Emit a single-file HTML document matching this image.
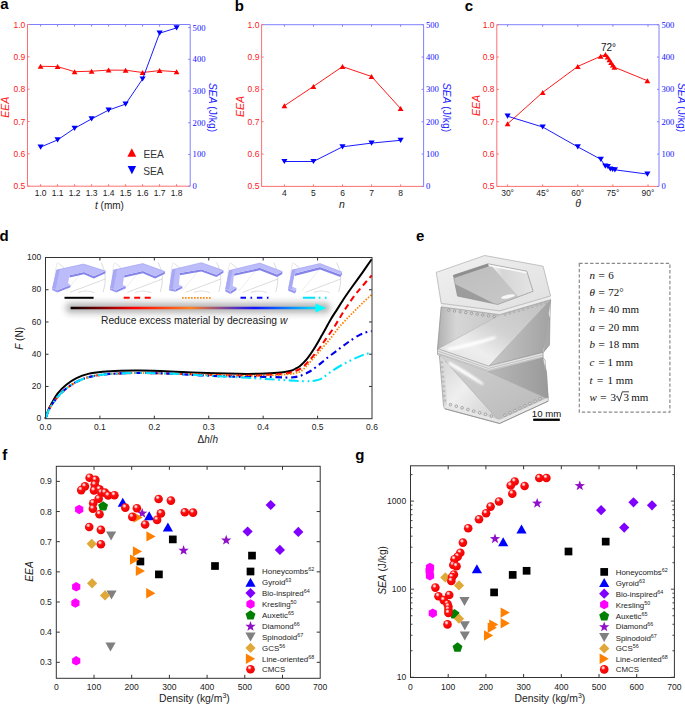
<!DOCTYPE html>
<html><head><meta charset="utf-8"><style>
html,body{margin:0;padding:0;background:#fff;}
svg{display:block;}
text{font-family:"Liberation Sans",sans-serif;}
</style></head><body>
<svg width="685" height="704" viewBox="0 0 685 704">
<text x="0.30" y="8.80" fill="#000" text-anchor="start" style='font-size:15px;font-family:"Liberation Sans", sans-serif;font-weight:bold;' >a</text>
<text x="234.70" y="10.70" fill="#000" text-anchor="start" style='font-size:15px;font-family:"Liberation Sans", sans-serif;font-weight:bold;' >b</text>
<text x="464.70" y="10.70" fill="#000" text-anchor="start" style='font-size:15px;font-family:"Liberation Sans", sans-serif;font-weight:bold;' >c</text>
<text x="-0.40" y="240.70" fill="#000" text-anchor="start" style='font-size:15px;font-family:"Liberation Sans", sans-serif;font-weight:bold;' >d</text>
<text x="416.00" y="240.80" fill="#000" text-anchor="start" style='font-size:15px;font-family:"Liberation Sans", sans-serif;font-weight:bold;' >e</text>
<text x="2.30" y="459.60" fill="#000" text-anchor="start" style='font-size:15px;font-family:"Liberation Sans", sans-serif;font-weight:bold;' >f</text>
<text x="355.30" y="459.90" fill="#000" text-anchor="start" style='font-size:15px;font-family:"Liberation Sans", sans-serif;font-weight:bold;' >g</text>
<line x1="27.50" y1="24.50" x2="190.20" y2="24.50" stroke="#8080ff" stroke-width="1" />
<line x1="190.20" y1="24.50" x2="190.20" y2="186.20" stroke="#8080ff" stroke-width="1" />
<line x1="27.50" y1="24.50" x2="27.50" y2="186.20" stroke="#ff7070" stroke-width="1" />
<line x1="27.50" y1="186.20" x2="190.20" y2="186.20" stroke="#ff7070" stroke-width="1" />
<line x1="40.60" y1="24.50" x2="40.60" y2="26.50" stroke="#8080ff" stroke-width="1" />
<line x1="40.60" y1="186.20" x2="40.60" y2="184.20" stroke="#ff7070" stroke-width="1" />
<line x1="57.60" y1="24.50" x2="57.60" y2="26.50" stroke="#8080ff" stroke-width="1" />
<line x1="57.60" y1="186.20" x2="57.60" y2="184.20" stroke="#ff7070" stroke-width="1" />
<line x1="74.60" y1="24.50" x2="74.60" y2="26.50" stroke="#8080ff" stroke-width="1" />
<line x1="74.60" y1="186.20" x2="74.60" y2="184.20" stroke="#ff7070" stroke-width="1" />
<line x1="91.60" y1="24.50" x2="91.60" y2="26.50" stroke="#8080ff" stroke-width="1" />
<line x1="91.60" y1="186.20" x2="91.60" y2="184.20" stroke="#ff7070" stroke-width="1" />
<line x1="108.60" y1="24.50" x2="108.60" y2="26.50" stroke="#8080ff" stroke-width="1" />
<line x1="108.60" y1="186.20" x2="108.60" y2="184.20" stroke="#ff7070" stroke-width="1" />
<line x1="125.60" y1="24.50" x2="125.60" y2="26.50" stroke="#8080ff" stroke-width="1" />
<line x1="125.60" y1="186.20" x2="125.60" y2="184.20" stroke="#ff7070" stroke-width="1" />
<line x1="142.60" y1="24.50" x2="142.60" y2="26.50" stroke="#8080ff" stroke-width="1" />
<line x1="142.60" y1="186.20" x2="142.60" y2="184.20" stroke="#ff7070" stroke-width="1" />
<line x1="159.60" y1="24.50" x2="159.60" y2="26.50" stroke="#8080ff" stroke-width="1" />
<line x1="159.60" y1="186.20" x2="159.60" y2="184.20" stroke="#ff7070" stroke-width="1" />
<line x1="176.60" y1="24.50" x2="176.60" y2="26.50" stroke="#8080ff" stroke-width="1" />
<line x1="176.60" y1="186.20" x2="176.60" y2="184.20" stroke="#ff7070" stroke-width="1" />
<line x1="27.50" y1="186.20" x2="29.50" y2="186.20" stroke="#ff7070" stroke-width="1" />
<text x="25.30" y="189.20" fill="#ff2020" text-anchor="end" style='font-size:8.5px;font-family:"Liberation Sans", sans-serif;' >0.5</text>
<line x1="190.20" y1="186.20" x2="188.20" y2="186.20" stroke="#8080ff" stroke-width="1" />
<text x="192.60" y="189.20" fill="#1010ff" text-anchor="start" style='font-size:8.6px;font-family:"Liberation Serif", serif;' >0</text>
<line x1="27.50" y1="153.86" x2="29.50" y2="153.86" stroke="#ff7070" stroke-width="1" />
<text x="25.30" y="156.86" fill="#ff2020" text-anchor="end" style='font-size:8.5px;font-family:"Liberation Sans", sans-serif;' >0.6</text>
<line x1="190.20" y1="154.48" x2="188.20" y2="154.48" stroke="#8080ff" stroke-width="1" />
<text x="192.60" y="157.48" fill="#1010ff" text-anchor="start" style='font-size:8.6px;font-family:"Liberation Serif", serif;' >100</text>
<line x1="27.50" y1="121.52" x2="29.50" y2="121.52" stroke="#ff7070" stroke-width="1" />
<text x="25.30" y="124.52" fill="#ff2020" text-anchor="end" style='font-size:8.5px;font-family:"Liberation Sans", sans-serif;' >0.7</text>
<line x1="190.20" y1="122.76" x2="188.20" y2="122.76" stroke="#8080ff" stroke-width="1" />
<text x="192.60" y="125.76" fill="#1010ff" text-anchor="start" style='font-size:8.6px;font-family:"Liberation Serif", serif;' >200</text>
<line x1="27.50" y1="89.18" x2="29.50" y2="89.18" stroke="#ff7070" stroke-width="1" />
<text x="25.30" y="92.18" fill="#ff2020" text-anchor="end" style='font-size:8.5px;font-family:"Liberation Sans", sans-serif;' >0.8</text>
<line x1="190.20" y1="91.04" x2="188.20" y2="91.04" stroke="#8080ff" stroke-width="1" />
<text x="192.60" y="94.04" fill="#1010ff" text-anchor="start" style='font-size:8.6px;font-family:"Liberation Serif", serif;' >300</text>
<line x1="27.50" y1="56.84" x2="29.50" y2="56.84" stroke="#ff7070" stroke-width="1" />
<text x="25.30" y="59.84" fill="#ff2020" text-anchor="end" style='font-size:8.5px;font-family:"Liberation Sans", sans-serif;' >0.9</text>
<line x1="190.20" y1="59.32" x2="188.20" y2="59.32" stroke="#8080ff" stroke-width="1" />
<text x="192.60" y="62.32" fill="#1010ff" text-anchor="start" style='font-size:8.6px;font-family:"Liberation Serif", serif;' >400</text>
<line x1="27.50" y1="24.50" x2="29.50" y2="24.50" stroke="#ff7070" stroke-width="1" />
<text x="25.30" y="27.50" fill="#ff2020" text-anchor="end" style='font-size:8.5px;font-family:"Liberation Sans", sans-serif;' >1.0</text>
<line x1="190.20" y1="27.60" x2="188.20" y2="27.60" stroke="#8080ff" stroke-width="1" />
<text x="192.60" y="30.60" fill="#1010ff" text-anchor="start" style='font-size:8.6px;font-family:"Liberation Serif", serif;' >500</text>
<text x="40.60" y="195.80" fill="#1a1a1a" text-anchor="middle" style='font-size:8.5px;font-family:"Liberation Sans", sans-serif;' >1.0</text>
<text x="57.60" y="195.80" fill="#1a1a1a" text-anchor="middle" style='font-size:8.5px;font-family:"Liberation Sans", sans-serif;' >1.1</text>
<text x="74.60" y="195.80" fill="#1a1a1a" text-anchor="middle" style='font-size:8.5px;font-family:"Liberation Sans", sans-serif;' >1.2</text>
<text x="91.60" y="195.80" fill="#1a1a1a" text-anchor="middle" style='font-size:8.5px;font-family:"Liberation Sans", sans-serif;' >1.3</text>
<text x="108.60" y="195.80" fill="#1a1a1a" text-anchor="middle" style='font-size:8.5px;font-family:"Liberation Sans", sans-serif;' >1.4</text>
<text x="125.60" y="195.80" fill="#1a1a1a" text-anchor="middle" style='font-size:8.5px;font-family:"Liberation Sans", sans-serif;' >1.5</text>
<text x="142.60" y="195.80" fill="#1a1a1a" text-anchor="middle" style='font-size:8.5px;font-family:"Liberation Sans", sans-serif;' >1.6</text>
<text x="159.60" y="195.80" fill="#1a1a1a" text-anchor="middle" style='font-size:8.5px;font-family:"Liberation Sans", sans-serif;' >1.7</text>
<text x="176.60" y="195.80" fill="#1a1a1a" text-anchor="middle" style='font-size:8.5px;font-family:"Liberation Sans", sans-serif;' >1.8</text>
<polyline points="40.60,66.30 57.60,66.60 74.60,71.70 91.60,71.20 108.60,70.10 125.60,70.20 142.60,72.50 159.60,70.60 176.60,71.70" fill="none" stroke="#ff0000" stroke-width="0.9" stroke-linejoin="round" />
<polygon points="37.70,68.80 43.50,68.80 40.60,63.80" fill="#ff0000" />
<polygon points="54.70,69.10 60.50,69.10 57.60,64.10" fill="#ff0000" />
<polygon points="71.70,74.20 77.50,74.20 74.60,69.20" fill="#ff0000" />
<polygon points="88.70,73.70 94.50,73.70 91.60,68.70" fill="#ff0000" />
<polygon points="105.70,72.60 111.50,72.60 108.60,67.60" fill="#ff0000" />
<polygon points="122.70,72.70 128.50,72.70 125.60,67.70" fill="#ff0000" />
<polygon points="139.70,75.00 145.50,75.00 142.60,70.00" fill="#ff0000" />
<polygon points="156.70,73.10 162.50,73.10 159.60,68.10" fill="#ff0000" />
<polygon points="173.70,74.20 179.50,74.20 176.60,69.20" fill="#ff0000" />
<polyline points="40.60,147.10 57.60,139.90 74.60,128.30 91.60,118.90 108.60,110.10 125.60,104.10 142.60,79.00 159.60,33.20 176.60,27.90" fill="none" stroke="#0000ff" stroke-width="0.9" stroke-linejoin="round" />
<polygon points="37.50,144.50 43.70,144.50 40.60,149.70" fill="#0000ff" />
<polygon points="54.50,137.30 60.70,137.30 57.60,142.50" fill="#0000ff" />
<polygon points="71.50,125.70 77.70,125.70 74.60,130.90" fill="#0000ff" />
<polygon points="88.50,116.30 94.70,116.30 91.60,121.50" fill="#0000ff" />
<polygon points="105.50,107.50 111.70,107.50 108.60,112.70" fill="#0000ff" />
<polygon points="122.50,101.50 128.70,101.50 125.60,106.70" fill="#0000ff" />
<polygon points="139.50,76.40 145.70,76.40 142.60,81.60" fill="#0000ff" />
<polygon points="156.50,30.60 162.70,30.60 159.60,35.80" fill="#0000ff" />
<polygon points="173.50,25.30 179.70,25.30 176.60,30.50" fill="#0000ff" />
<polygon points="127.40,156.75 136.20,156.75 131.80,148.25" fill="#ff0000" />
<text x="143.40" y="157.70" fill="#333" text-anchor="start" style='font-size:10.2px;font-family:"Liberation Sans", sans-serif;' >EEA</text>
<polygon points="127.70,166.00 136.10,166.00 131.90,174.20" fill="#0000ff" />
<text x="143.20" y="174.60" fill="#333" text-anchor="start" style='font-size:10.2px;font-family:"Liberation Sans", sans-serif;' >SEA</text>
<text x="0" y="0" transform="translate(9.2,107.2) rotate(-90)" text-anchor="middle" fill="#ff2020" style='font-size:10.5px;font-family:"Liberation Sans",sans-serif;font-style:italic'>EEA</text>
<text x="0" y="0" transform="translate(209.4,107.5) rotate(90)" text-anchor="middle" fill="#1a1aff" style='font-size:10.3px;font-family:"Liberation Sans",sans-serif'><tspan style="font-style:italic">SEA</tspan> (J/kg)</text>
<text x="109.5" y="208.6" text-anchor="middle" fill="#222" style='font-size:10px;font-family:"Liberation Sans",sans-serif'><tspan style="font-style:italic">t</tspan> (mm)</text>
<line x1="261.60" y1="24.70" x2="423.60" y2="24.70" stroke="#8080ff" stroke-width="1" />
<line x1="423.60" y1="24.70" x2="423.60" y2="186.40" stroke="#8080ff" stroke-width="1" />
<line x1="261.60" y1="24.70" x2="261.60" y2="186.40" stroke="#ff7070" stroke-width="1" />
<line x1="261.60" y1="186.40" x2="423.60" y2="186.40" stroke="#ff7070" stroke-width="1" />
<line x1="284.40" y1="24.70" x2="284.40" y2="26.70" stroke="#8080ff" stroke-width="1" />
<line x1="284.40" y1="186.40" x2="284.40" y2="184.40" stroke="#ff7070" stroke-width="1" />
<line x1="313.45" y1="24.70" x2="313.45" y2="26.70" stroke="#8080ff" stroke-width="1" />
<line x1="313.45" y1="186.40" x2="313.45" y2="184.40" stroke="#ff7070" stroke-width="1" />
<line x1="342.50" y1="24.70" x2="342.50" y2="26.70" stroke="#8080ff" stroke-width="1" />
<line x1="342.50" y1="186.40" x2="342.50" y2="184.40" stroke="#ff7070" stroke-width="1" />
<line x1="371.55" y1="24.70" x2="371.55" y2="26.70" stroke="#8080ff" stroke-width="1" />
<line x1="371.55" y1="186.40" x2="371.55" y2="184.40" stroke="#ff7070" stroke-width="1" />
<line x1="400.60" y1="24.70" x2="400.60" y2="26.70" stroke="#8080ff" stroke-width="1" />
<line x1="400.60" y1="186.40" x2="400.60" y2="184.40" stroke="#ff7070" stroke-width="1" />
<line x1="261.60" y1="186.40" x2="263.60" y2="186.40" stroke="#ff7070" stroke-width="1" />
<text x="259.40" y="189.40" fill="#ff2020" text-anchor="end" style='font-size:8.5px;font-family:"Liberation Sans", sans-serif;' >0.5</text>
<line x1="423.60" y1="186.40" x2="421.60" y2="186.40" stroke="#8080ff" stroke-width="1" />
<text x="426.00" y="189.40" fill="#1010ff" text-anchor="start" style='font-size:8.6px;font-family:"Liberation Serif", serif;' >0</text>
<line x1="261.60" y1="154.06" x2="263.60" y2="154.06" stroke="#ff7070" stroke-width="1" />
<text x="259.40" y="157.06" fill="#ff2020" text-anchor="end" style='font-size:8.5px;font-family:"Liberation Sans", sans-serif;' >0.6</text>
<line x1="423.60" y1="154.06" x2="421.60" y2="154.06" stroke="#8080ff" stroke-width="1" />
<text x="426.00" y="157.06" fill="#1010ff" text-anchor="start" style='font-size:8.6px;font-family:"Liberation Serif", serif;' >100</text>
<line x1="261.60" y1="121.72" x2="263.60" y2="121.72" stroke="#ff7070" stroke-width="1" />
<text x="259.40" y="124.72" fill="#ff2020" text-anchor="end" style='font-size:8.5px;font-family:"Liberation Sans", sans-serif;' >0.7</text>
<line x1="423.60" y1="121.72" x2="421.60" y2="121.72" stroke="#8080ff" stroke-width="1" />
<text x="426.00" y="124.72" fill="#1010ff" text-anchor="start" style='font-size:8.6px;font-family:"Liberation Serif", serif;' >200</text>
<line x1="261.60" y1="89.38" x2="263.60" y2="89.38" stroke="#ff7070" stroke-width="1" />
<text x="259.40" y="92.38" fill="#ff2020" text-anchor="end" style='font-size:8.5px;font-family:"Liberation Sans", sans-serif;' >0.8</text>
<line x1="423.60" y1="89.38" x2="421.60" y2="89.38" stroke="#8080ff" stroke-width="1" />
<text x="426.00" y="92.38" fill="#1010ff" text-anchor="start" style='font-size:8.6px;font-family:"Liberation Serif", serif;' >300</text>
<line x1="261.60" y1="57.04" x2="263.60" y2="57.04" stroke="#ff7070" stroke-width="1" />
<text x="259.40" y="60.04" fill="#ff2020" text-anchor="end" style='font-size:8.5px;font-family:"Liberation Sans", sans-serif;' >0.9</text>
<line x1="423.60" y1="57.04" x2="421.60" y2="57.04" stroke="#8080ff" stroke-width="1" />
<text x="426.00" y="60.04" fill="#1010ff" text-anchor="start" style='font-size:8.6px;font-family:"Liberation Serif", serif;' >400</text>
<line x1="261.60" y1="24.70" x2="263.60" y2="24.70" stroke="#ff7070" stroke-width="1" />
<text x="259.40" y="27.70" fill="#ff2020" text-anchor="end" style='font-size:8.5px;font-family:"Liberation Sans", sans-serif;' >1.0</text>
<line x1="423.60" y1="24.70" x2="421.60" y2="24.70" stroke="#8080ff" stroke-width="1" />
<text x="426.00" y="27.70" fill="#1010ff" text-anchor="start" style='font-size:8.6px;font-family:"Liberation Serif", serif;' >500</text>
<text x="284.40" y="195.80" fill="#1a1a1a" text-anchor="middle" style='font-size:8.5px;font-family:"Liberation Sans", sans-serif;' >4</text>
<text x="313.45" y="195.80" fill="#1a1a1a" text-anchor="middle" style='font-size:8.5px;font-family:"Liberation Sans", sans-serif;' >5</text>
<text x="342.50" y="195.80" fill="#1a1a1a" text-anchor="middle" style='font-size:8.5px;font-family:"Liberation Sans", sans-serif;' >6</text>
<text x="371.55" y="195.80" fill="#1a1a1a" text-anchor="middle" style='font-size:8.5px;font-family:"Liberation Sans", sans-serif;' >7</text>
<text x="400.60" y="195.80" fill="#1a1a1a" text-anchor="middle" style='font-size:8.5px;font-family:"Liberation Sans", sans-serif;' >8</text>
<polyline points="284.40,105.80 313.45,86.40 342.50,66.60 371.55,76.50 400.60,108.60" fill="none" stroke="#ff0000" stroke-width="0.9" stroke-linejoin="round" />
<polygon points="281.50,108.30 287.30,108.30 284.40,103.30" fill="#ff0000" />
<polygon points="310.55,88.90 316.35,88.90 313.45,83.90" fill="#ff0000" />
<polygon points="339.60,69.10 345.40,69.10 342.50,64.10" fill="#ff0000" />
<polygon points="368.65,79.00 374.45,79.00 371.55,74.00" fill="#ff0000" />
<polygon points="397.70,111.10 403.50,111.10 400.60,106.10" fill="#ff0000" />
<polyline points="284.40,161.50 313.45,161.50 342.50,146.80 371.55,143.10 400.60,140.30" fill="none" stroke="#0000ff" stroke-width="0.9" stroke-linejoin="round" />
<polygon points="281.30,158.90 287.50,158.90 284.40,164.10" fill="#0000ff" />
<polygon points="310.35,158.90 316.55,158.90 313.45,164.10" fill="#0000ff" />
<polygon points="339.40,144.20 345.60,144.20 342.50,149.40" fill="#0000ff" />
<polygon points="368.45,140.50 374.65,140.50 371.55,145.70" fill="#0000ff" />
<polygon points="397.50,137.70 403.70,137.70 400.60,142.90" fill="#0000ff" />
<text x="0" y="0" transform="translate(244.0,106.6) rotate(-90)" text-anchor="middle" fill="#ff2020" style='font-size:10.5px;font-family:"Liberation Sans",sans-serif;font-style:italic'>EEA</text>
<text x="0" y="0" transform="translate(442.8,107.5) rotate(90)" text-anchor="middle" fill="#1a1aff" style='font-size:10.3px;font-family:"Liberation Sans",sans-serif'><tspan style="font-style:italic">SEA</tspan> (J/kg)</text>
<text x="342" y="207.6" text-anchor="middle" fill="#222" style='font-size:10.5px;font-family:"Liberation Sans",sans-serif;font-style:italic'>n</text>
<line x1="496.80" y1="24.70" x2="659.00" y2="24.70" stroke="#8080ff" stroke-width="1" />
<line x1="659.00" y1="24.70" x2="659.00" y2="186.40" stroke="#8080ff" stroke-width="1" />
<line x1="496.80" y1="24.70" x2="496.80" y2="186.40" stroke="#ff7070" stroke-width="1" />
<line x1="496.80" y1="186.40" x2="659.00" y2="186.40" stroke="#ff7070" stroke-width="1" />
<line x1="507.60" y1="24.70" x2="507.60" y2="26.70" stroke="#8080ff" stroke-width="1" />
<line x1="507.60" y1="186.40" x2="507.60" y2="184.40" stroke="#ff7070" stroke-width="1" />
<line x1="542.70" y1="24.70" x2="542.70" y2="26.70" stroke="#8080ff" stroke-width="1" />
<line x1="542.70" y1="186.40" x2="542.70" y2="184.40" stroke="#ff7070" stroke-width="1" />
<line x1="577.80" y1="24.70" x2="577.80" y2="26.70" stroke="#8080ff" stroke-width="1" />
<line x1="577.80" y1="186.40" x2="577.80" y2="184.40" stroke="#ff7070" stroke-width="1" />
<line x1="612.90" y1="24.70" x2="612.90" y2="26.70" stroke="#8080ff" stroke-width="1" />
<line x1="612.90" y1="186.40" x2="612.90" y2="184.40" stroke="#ff7070" stroke-width="1" />
<line x1="648.00" y1="24.70" x2="648.00" y2="26.70" stroke="#8080ff" stroke-width="1" />
<line x1="648.00" y1="186.40" x2="648.00" y2="184.40" stroke="#ff7070" stroke-width="1" />
<line x1="496.80" y1="186.40" x2="498.80" y2="186.40" stroke="#ff7070" stroke-width="1" />
<text x="494.60" y="189.40" fill="#ff2020" text-anchor="end" style='font-size:8.5px;font-family:"Liberation Sans", sans-serif;' >0.5</text>
<line x1="659.00" y1="186.40" x2="657.00" y2="186.40" stroke="#8080ff" stroke-width="1" />
<text x="661.40" y="189.40" fill="#1010ff" text-anchor="start" style='font-size:8.6px;font-family:"Liberation Serif", serif;' >0</text>
<line x1="496.80" y1="154.06" x2="498.80" y2="154.06" stroke="#ff7070" stroke-width="1" />
<text x="494.60" y="157.06" fill="#ff2020" text-anchor="end" style='font-size:8.5px;font-family:"Liberation Sans", sans-serif;' >0.6</text>
<line x1="659.00" y1="154.06" x2="657.00" y2="154.06" stroke="#8080ff" stroke-width="1" />
<text x="661.40" y="157.06" fill="#1010ff" text-anchor="start" style='font-size:8.6px;font-family:"Liberation Serif", serif;' >100</text>
<line x1="496.80" y1="121.72" x2="498.80" y2="121.72" stroke="#ff7070" stroke-width="1" />
<text x="494.60" y="124.72" fill="#ff2020" text-anchor="end" style='font-size:8.5px;font-family:"Liberation Sans", sans-serif;' >0.7</text>
<line x1="659.00" y1="121.72" x2="657.00" y2="121.72" stroke="#8080ff" stroke-width="1" />
<text x="661.40" y="124.72" fill="#1010ff" text-anchor="start" style='font-size:8.6px;font-family:"Liberation Serif", serif;' >200</text>
<line x1="496.80" y1="89.38" x2="498.80" y2="89.38" stroke="#ff7070" stroke-width="1" />
<text x="494.60" y="92.38" fill="#ff2020" text-anchor="end" style='font-size:8.5px;font-family:"Liberation Sans", sans-serif;' >0.8</text>
<line x1="659.00" y1="89.38" x2="657.00" y2="89.38" stroke="#8080ff" stroke-width="1" />
<text x="661.40" y="92.38" fill="#1010ff" text-anchor="start" style='font-size:8.6px;font-family:"Liberation Serif", serif;' >300</text>
<line x1="496.80" y1="57.04" x2="498.80" y2="57.04" stroke="#ff7070" stroke-width="1" />
<text x="494.60" y="60.04" fill="#ff2020" text-anchor="end" style='font-size:8.5px;font-family:"Liberation Sans", sans-serif;' >0.9</text>
<line x1="659.00" y1="57.04" x2="657.00" y2="57.04" stroke="#8080ff" stroke-width="1" />
<text x="661.40" y="60.04" fill="#1010ff" text-anchor="start" style='font-size:8.6px;font-family:"Liberation Serif", serif;' >400</text>
<line x1="496.80" y1="24.70" x2="498.80" y2="24.70" stroke="#ff7070" stroke-width="1" />
<text x="494.60" y="27.70" fill="#ff2020" text-anchor="end" style='font-size:8.5px;font-family:"Liberation Sans", sans-serif;' >1.0</text>
<line x1="659.00" y1="24.70" x2="657.00" y2="24.70" stroke="#8080ff" stroke-width="1" />
<text x="661.40" y="27.70" fill="#1010ff" text-anchor="start" style='font-size:8.6px;font-family:"Liberation Serif", serif;' >500</text>
<text x="507.60" y="195.80" fill="#1a1a1a" text-anchor="middle" style='font-size:8.5px;font-family:"Liberation Sans", sans-serif;' >30°</text>
<text x="542.70" y="195.80" fill="#1a1a1a" text-anchor="middle" style='font-size:8.5px;font-family:"Liberation Sans", sans-serif;' >45°</text>
<text x="577.80" y="195.80" fill="#1a1a1a" text-anchor="middle" style='font-size:8.5px;font-family:"Liberation Sans", sans-serif;' >60°</text>
<text x="612.90" y="195.80" fill="#1a1a1a" text-anchor="middle" style='font-size:8.5px;font-family:"Liberation Sans", sans-serif;' >75°</text>
<text x="648.00" y="195.80" fill="#1a1a1a" text-anchor="middle" style='font-size:8.5px;font-family:"Liberation Sans", sans-serif;' >90°</text>
<polyline points="507.60,123.80 542.70,92.40 577.80,66.40 600.70,56.30 605.50,54.60 607.60,57.00 609.40,59.70 611.10,62.40 612.80,65.00 614.40,67.20 647.40,80.70" fill="none" stroke="#ff0000" stroke-width="0.9" stroke-linejoin="round" />
<polygon points="504.70,126.30 510.50,126.30 507.60,121.30" fill="#ff0000" />
<polygon points="539.80,94.90 545.60,94.90 542.70,89.90" fill="#ff0000" />
<polygon points="574.90,68.90 580.70,68.90 577.80,63.90" fill="#ff0000" />
<polygon points="597.80,58.80 603.60,58.80 600.70,53.80" fill="#ff0000" />
<polygon points="602.60,57.10 608.40,57.10 605.50,52.10" fill="#ff0000" />
<polygon points="604.70,59.50 610.50,59.50 607.60,54.50" fill="#ff0000" />
<polygon points="606.50,62.20 612.30,62.20 609.40,57.20" fill="#ff0000" />
<polygon points="608.20,64.90 614.00,64.90 611.10,59.90" fill="#ff0000" />
<polygon points="609.90,67.50 615.70,67.50 612.80,62.50" fill="#ff0000" />
<polygon points="611.50,69.70 617.30,69.70 614.40,64.70" fill="#ff0000" />
<polygon points="644.50,83.20 650.30,83.20 647.40,78.20" fill="#ff0000" />
<polyline points="507.60,116.20 542.70,127.00 577.80,146.90 600.80,159.30 605.30,166.20 607.80,166.50 610.30,169.00 612.60,169.50 614.90,169.80 647.40,174.10" fill="none" stroke="#0000ff" stroke-width="0.9" stroke-linejoin="round" />
<polygon points="504.50,113.60 510.70,113.60 507.60,118.80" fill="#0000ff" />
<polygon points="539.60,124.40 545.80,124.40 542.70,129.60" fill="#0000ff" />
<polygon points="574.70,144.30 580.90,144.30 577.80,149.50" fill="#0000ff" />
<polygon points="597.70,156.70 603.90,156.70 600.80,161.90" fill="#0000ff" />
<polygon points="602.20,163.60 608.40,163.60 605.30,168.80" fill="#0000ff" />
<polygon points="604.70,163.90 610.90,163.90 607.80,169.10" fill="#0000ff" />
<polygon points="607.20,166.40 613.40,166.40 610.30,171.60" fill="#0000ff" />
<polygon points="609.50,166.90 615.70,166.90 612.60,172.10" fill="#0000ff" />
<polygon points="611.80,167.20 618.00,167.20 614.90,172.40" fill="#0000ff" />
<polygon points="644.30,171.50 650.50,171.50 647.40,176.70" fill="#0000ff" />
<text x="0" y="0" transform="translate(479.7,105.6) rotate(-90)" text-anchor="middle" fill="#ff2020" style='font-size:10.5px;font-family:"Liberation Sans",sans-serif;font-style:italic'>EEA</text>
<text x="0" y="0" transform="translate(678.3,107.5) rotate(90)" text-anchor="middle" fill="#1a1aff" style='font-size:10.3px;font-family:"Liberation Sans",sans-serif'><tspan style="font-style:italic">SEA</tspan> (J/kg)</text>
<text x="578.2" y="207" text-anchor="middle" fill="#222" style='font-size:10.5px;font-family:"Liberation Sans",sans-serif;font-style:italic'>θ</text>
<text x="601.00" y="51.00" fill="#111" text-anchor="start" style='font-size:10px;font-family:"Liberation Sans", sans-serif;' >72°</text>
<defs>
<filter id="blur3" x="-10%" y="-100%" width="120%" height="300%"><feGaussianBlur stdDeviation="3"/></filter>
<linearGradient id="arrowg" x1="70" y1="0" x2="326" y2="0" gradientUnits="userSpaceOnUse">
<stop offset="0" stop-color="#000"/><stop offset="0.25" stop-color="#ff0000"/><stop offset="0.47" stop-color="#ff8020"/><stop offset="0.72" stop-color="#1010ff"/><stop offset="1" stop-color="#00ffff"/>
</linearGradient>
<radialGradient id="ball" cx="0.4" cy="0.35" r="0.65" fx="0.38" fy="0.3">
<stop offset="0" stop-color="#ffffff"/><stop offset="0.18" stop-color="#ffb0b0"/><stop offset="0.38" stop-color="#ff1010"/><stop offset="1" stop-color="#ee0000"/>
</radialGradient>
</defs>
<path d="M101.2,262.5 Q108.2,276 103.2,292" fill="none" stroke="#dcdcdc" stroke-width="1.0"/>
<path d="M57.2,262.5 Q53.2,277 56.2,291" fill="none" stroke="#e2e2e2" stroke-width="0.7"/>
<path d="M58.2,263 L64.2,268" fill="none" stroke="#c8c8c8" stroke-width="0.6"/>
<path d="M70.2,292.3 L105.2,279" fill="none" stroke="#c4c4c4" stroke-width="0.6"/>
<path d="M78.2,292.5 Q85.2,289.5 94.2,292.5" fill="none" stroke="#dedede" stroke-width="1.2"/>
<path d="M66.2,291 L85.2,268" fill="none" stroke="#e0e0e0" stroke-width="0.6"/>
<polygon points="69.50,275.30 84.00,272.00 93.80,276.20 105.50,271.10 105.50,273.30 93.80,278.40 84.00,274.20 69.50,277.50" fill="#8484ea"/>
<polygon points="57.30,290.20 70.40,285.10 70.40,287.30 57.30,292.40" fill="#8a8aec"/>
<polygon points="52.20,287.90 57.30,290.20 57.30,292.40 52.20,290.10" fill="#9a9af0"/>
<polygon points="56.40,270.10 83.50,264.10 105.50,271.10 93.80,276.20 84.00,272.00 69.50,275.30 68.10,283.20 70.40,285.10 57.30,290.20 52.20,287.90" fill="#bcbcfa"/>
<polygon points="56.40,270.10 59.90,269.60 55.70,288.70 52.20,287.90" fill="#a8a8f4"/>
<polyline points="56.40,270.10 83.50,264.10 105.50,271.10" fill="none" stroke="#9c9cf2" stroke-width="0.6"/>
<path d="M158.3,262.5 Q165.3,276 160.3,292" fill="none" stroke="#dcdcdc" stroke-width="1.0"/>
<path d="M114.3,262.5 Q110.3,277 113.3,291" fill="none" stroke="#e2e2e2" stroke-width="0.7"/>
<path d="M115.3,263 L121.3,268" fill="none" stroke="#c8c8c8" stroke-width="0.6"/>
<path d="M127.3,292.3 L162.3,279" fill="none" stroke="#c4c4c4" stroke-width="0.6"/>
<path d="M135.3,292.5 Q142.3,289.5 151.3,292.5" fill="none" stroke="#dedede" stroke-width="1.2"/>
<path d="M123.3,291 L142.3,268" fill="none" stroke="#e0e0e0" stroke-width="0.6"/>
<polygon points="124.20,275.30 142.90,271.10 155.10,276.20 164.90,271.60 164.90,273.80 155.10,278.40 142.90,273.30 124.20,277.50" fill="#8484ea"/>
<polygon points="116.30,290.30 125.60,286.00 125.60,288.20 116.30,292.50" fill="#8a8aec"/>
<polygon points="110.20,287.90 116.30,290.30 116.30,292.50 110.20,290.10" fill="#9a9af0"/>
<polygon points="113.50,270.10 142.90,263.60 164.90,271.60 155.10,276.20 142.90,271.10 124.20,275.30 122.80,285.10 125.60,286.00 116.30,290.30 110.20,287.90" fill="#bcbcfa"/>
<polygon points="113.50,270.10 117.00,269.60 113.70,288.70 110.20,287.90" fill="#a8a8f4"/>
<polyline points="113.50,270.10 142.90,263.60 164.90,271.60" fill="none" stroke="#9c9cf2" stroke-width="0.6"/>
<path d="M216.8,262.5 Q223.8,276 218.8,292" fill="none" stroke="#dcdcdc" stroke-width="1.0"/>
<path d="M172.8,262.5 Q168.8,277 171.8,291" fill="none" stroke="#e2e2e2" stroke-width="0.7"/>
<path d="M173.8,263 L179.8,268" fill="none" stroke="#c8c8c8" stroke-width="0.6"/>
<path d="M185.8,292.3 L220.8,279" fill="none" stroke="#c4c4c4" stroke-width="0.6"/>
<path d="M193.8,292.5 Q200.8,289.5 209.8,292.5" fill="none" stroke="#dedede" stroke-width="1.2"/>
<path d="M181.8,291 L200.8,268" fill="none" stroke="#e0e0e0" stroke-width="0.6"/>
<polygon points="180.00,273.00 201.40,269.20 216.40,274.80 223.40,270.60 223.40,272.80 216.40,277.00 201.40,271.40 180.00,275.20" fill="#8484ea"/>
<polygon points="175.30,289.60 182.30,286.00 182.30,288.20 175.30,291.80" fill="#8a8aec"/>
<polygon points="169.20,288.20 175.30,289.60 175.30,291.80 169.20,290.40" fill="#9a9af0"/>
<polygon points="172.00,269.70 201.40,262.70 223.40,270.60 216.40,274.80 201.40,269.20 180.00,273.00 179.00,285.10 182.30,286.00 175.30,289.60 169.20,288.20" fill="#bcbcfa"/>
<polygon points="172.00,269.70 175.50,269.20 172.70,289.00 169.20,288.20" fill="#a8a8f4"/>
<polyline points="172.00,269.70 201.40,262.70 223.40,270.60" fill="none" stroke="#9c9cf2" stroke-width="0.6"/>
<path d="M273.8,262.5 Q280.8,276 275.8,292" fill="none" stroke="#dcdcdc" stroke-width="1.0"/>
<path d="M229.8,262.5 Q225.8,277 228.8,291" fill="none" stroke="#e2e2e2" stroke-width="0.7"/>
<path d="M230.8,263 L236.8,268" fill="none" stroke="#c8c8c8" stroke-width="0.6"/>
<path d="M242.8,292.3 L277.8,279" fill="none" stroke="#c4c4c4" stroke-width="0.6"/>
<path d="M250.8,292.5 Q257.8,289.5 266.8,292.5" fill="none" stroke="#dedede" stroke-width="1.2"/>
<path d="M238.8,291 L257.8,268" fill="none" stroke="#e0e0e0" stroke-width="0.6"/>
<polygon points="234.10,273.40 259.90,267.80 277.10,274.60 282.30,271.60 282.30,274.00 277.10,277.00 259.90,270.20 234.10,275.80" fill="#8484ea"/>
<polygon points="230.40,291.50 236.50,287.50 236.50,289.90 230.40,293.90" fill="#8a8aec"/>
<polygon points="225.30,289.00 230.40,291.50 230.40,293.90 225.30,291.40" fill="#9a9af0"/>
<polygon points="229.00,270.60 259.90,263.10 282.30,271.60 277.10,274.60 259.90,267.80 234.10,273.40 232.70,286.00 236.50,287.50 230.40,291.50 225.30,289.00" fill="#bcbcfa"/>
<polygon points="229.00,270.60 232.50,270.10 228.80,289.80 225.30,289.00" fill="#a8a8f4"/>
<polyline points="229.00,270.60 259.90,263.10 282.30,271.60" fill="none" stroke="#9c9cf2" stroke-width="0.6"/>
<path d="M336.7,262.5 Q343.7,276 338.7,292" fill="none" stroke="#dcdcdc" stroke-width="1.0"/>
<path d="M292.7,262.5 Q288.7,277 291.7,291" fill="none" stroke="#e2e2e2" stroke-width="0.7"/>
<path d="M293.7,263 L299.7,268" fill="none" stroke="#c8c8c8" stroke-width="0.6"/>
<path d="M305.7,292.3 L340.7,279" fill="none" stroke="#c4c4c4" stroke-width="0.6"/>
<path d="M313.7,292.5 Q320.7,289.5 329.7,292.5" fill="none" stroke="#dedede" stroke-width="1.2"/>
<path d="M301.7,291 L320.7,268" fill="none" stroke="#e0e0e0" stroke-width="0.6"/>
<polygon points="294.60,273.60 320.00,267.00 340.30,274.60 341.90,272.00 341.90,274.40 340.30,277.00 320.00,269.40 294.60,276.00" fill="#8484ea"/>
<polygon points="295.00,291.00 296.20,288.20 296.20,290.60 295.00,293.40" fill="#8a8aec"/>
<polygon points="288.20,288.40 295.00,291.00 295.00,293.40 288.20,290.80" fill="#9a9af0"/>
<polygon points="291.90,270.10 320.00,263.60 341.90,272.00 340.30,274.60 320.00,267.00 294.60,273.60 291.60,286.60 296.20,288.20 295.00,291.00 288.20,288.40" fill="#bcbcfa"/>
<polygon points="291.90,270.10 295.40,269.60 291.70,289.20 288.20,288.40" fill="#a8a8f4"/>
<polyline points="291.90,270.10 320.00,263.60 341.90,272.00" fill="none" stroke="#9c9cf2" stroke-width="0.6"/>
<line x1="64.50" y1="297.80" x2="93.60" y2="297.80" stroke="#000" stroke-width="2" />
<line x1="123.70" y1="297.80" x2="150.80" y2="297.80" stroke="#ff0000" stroke-width="2" stroke-dasharray="6,4.5"/>
<line x1="182.10" y1="297.80" x2="210.60" y2="297.80" stroke="#ff8000" stroke-width="1.8" stroke-dasharray="1.5,1.5"/>
<line x1="240.50" y1="297.80" x2="268.50" y2="297.80" stroke="#0000ff" stroke-width="2" stroke-dasharray="5.5,4.5,1.6,4.8"/>
<line x1="302.90" y1="297.80" x2="327.00" y2="297.80" stroke="#00e5ff" stroke-width="2" stroke-dasharray="12.3,3.5,1.7,4.4,1.7,4"/>
<rect x="66" y="303" width="264" height="10" rx="4" fill="#777" opacity="0.75" filter="url(#blur3)"/>
<rect x="62" y="300" width="272" height="16" fill="#fff" opacity="0.25"/>
<line x1="70.60" y1="308.00" x2="318.00" y2="308.00" stroke="url(#arrowg)" stroke-width="2.4" />
<polygon points="315.50,303.60 326.20,308.00 315.50,312.40" fill="#00ffff" />
<text x="101.0" y="324" fill="#222" style='font-size:10.25px;font-family:"Liberation Sans",sans-serif'>Reduce excess material by decreasing <tspan style="font-style:italic">w</tspan></text>
<path d="M45.50,418.70 C46.00,417.17 47.47,412.07 48.50,409.50 C49.53,406.93 50.20,405.95 51.70,403.30 C53.20,400.65 55.07,396.68 57.50,393.60 C59.93,390.52 63.13,387.37 66.30,384.80 C69.47,382.23 72.85,380.02 76.50,378.20 C80.15,376.38 83.82,374.98 88.20,373.90 C92.58,372.82 97.45,372.23 102.80,371.70 C108.15,371.17 114.10,370.90 120.30,370.70 C126.50,370.50 131.72,370.38 140.00,370.50 C148.28,370.62 160.00,371.02 170.00,371.40 C180.00,371.78 187.20,372.38 200.00,372.80 C212.80,373.22 235.13,373.83 246.80,373.90 C258.47,373.97 263.97,373.47 270.00,373.20 C276.03,372.93 279.50,372.70 283.00,372.30 C286.50,371.90 288.83,371.45 291.00,370.80 C293.17,370.15 294.50,369.20 296.00,368.40 C297.50,367.60 298.23,367.50 300.00,366.00 C301.77,364.50 304.23,362.32 306.60,359.40 C308.97,356.48 311.65,352.52 314.20,348.50 C316.75,344.48 319.15,340.13 321.90,335.30 C324.65,330.47 328.17,323.82 330.70,319.50 C333.23,315.18 334.80,313.02 337.10,309.40 C339.40,305.78 342.02,301.53 344.50,297.80 C346.98,294.07 348.98,291.25 352.00,287.00 C355.02,282.75 359.32,276.92 362.60,272.30 C365.88,267.68 370.18,261.47 371.70,259.30" fill="none" stroke="#000" stroke-width="2"/>
<path d="M45.50,418.70 C46.00,417.33 47.42,412.87 48.50,410.50 C49.58,408.13 50.42,406.83 52.00,404.50 C53.58,402.17 55.62,399.17 58.00,396.50 C60.38,393.83 63.22,390.93 66.30,388.50 C69.38,386.07 72.88,383.77 76.50,381.90 C80.12,380.03 83.62,378.52 88.00,377.30 C92.38,376.08 97.47,375.25 102.80,374.60 C108.13,373.95 113.80,373.67 120.00,373.40 C126.20,373.13 131.67,372.97 140.00,373.00 C148.33,373.03 160.00,373.33 170.00,373.60 C180.00,373.87 187.20,374.27 200.00,374.60 C212.80,374.93 235.13,375.58 246.80,375.60 C258.47,375.62 263.63,375.03 270.00,374.70 C276.37,374.37 281.00,374.12 285.00,373.60 C289.00,373.08 291.13,372.60 294.00,371.60 C296.87,370.60 299.92,369.17 302.20,367.60 C304.48,366.03 305.88,364.12 307.70,362.20 C309.52,360.28 311.18,358.38 313.10,356.10 C315.02,353.82 317.18,351.20 319.20,348.50 C321.22,345.80 322.75,343.40 325.20,339.90 C327.65,336.40 331.22,331.62 333.90,327.50 C336.58,323.38 339.00,318.88 341.30,315.20 C343.60,311.52 345.38,308.82 347.70,305.40 C350.02,301.98 352.72,297.95 355.20,294.70 C357.68,291.45 359.85,289.13 362.60,285.90 C365.35,282.67 370.18,277.07 371.70,275.30" fill="none" stroke="#ff0000" stroke-width="2" stroke-dasharray="6,4"/>
<path d="M45.50,418.70 C46.00,417.33 47.42,412.87 48.50,410.50 C49.58,408.13 50.42,406.83 52.00,404.50 C53.58,402.17 55.62,399.17 58.00,396.50 C60.38,393.83 63.22,390.93 66.30,388.50 C69.38,386.07 72.88,383.77 76.50,381.90 C80.12,380.03 83.62,378.52 88.00,377.30 C92.38,376.08 97.47,375.25 102.80,374.60 C108.13,373.95 113.80,373.67 120.00,373.40 C126.20,373.13 131.67,372.97 140.00,373.00 C148.33,373.03 160.00,373.33 170.00,373.60 C180.00,373.87 187.20,374.22 200.00,374.60 C212.80,374.98 235.13,375.78 246.80,375.90 C258.47,376.02 263.13,375.58 270.00,375.30 C276.87,375.02 283.67,374.60 288.00,374.20 C292.33,373.80 293.82,373.40 296.00,372.90 C298.18,372.40 299.33,372.35 301.10,371.20 C302.87,370.05 304.42,368.33 306.60,366.00 C308.78,363.67 311.65,360.12 314.20,357.20 C316.75,354.28 319.33,351.45 321.90,348.50 C324.47,345.55 327.07,342.62 329.60,339.50 C332.13,336.38 335.32,332.08 337.10,329.80 C338.88,327.52 338.53,327.78 340.30,325.80 C342.07,323.82 345.22,320.47 347.70,317.90 C350.18,315.33 352.72,312.88 355.20,310.40 C357.68,307.92 359.85,305.65 362.60,303.00 C365.35,300.35 370.18,295.92 371.70,294.50" fill="none" stroke="#ff8000" stroke-width="1.8" stroke-dasharray="1.5,1.5"/>
<path d="M45.50,418.70 C46.00,417.33 47.42,412.87 48.50,410.50 C49.58,408.13 50.42,406.83 52.00,404.50 C53.58,402.17 55.62,399.17 58.00,396.50 C60.38,393.83 63.22,390.93 66.30,388.50 C69.38,386.07 72.88,383.77 76.50,381.90 C80.12,380.03 83.62,378.52 88.00,377.30 C92.38,376.08 97.47,375.25 102.80,374.60 C108.13,373.95 113.80,373.67 120.00,373.40 C126.20,373.13 131.67,372.97 140.00,373.00 C148.33,373.03 160.00,373.20 170.00,373.60 C180.00,374.00 187.20,374.83 200.00,375.40 C212.80,375.97 235.13,376.75 246.80,377.00 C258.47,377.25 262.80,376.80 270.00,376.90 C277.20,377.00 285.00,377.77 290.00,377.60 C295.00,377.43 296.87,376.83 300.00,375.90 C303.13,374.97 305.88,373.65 308.80,372.00 C311.72,370.35 314.40,368.37 317.50,366.00 C320.60,363.63 323.93,360.53 327.40,357.80 C330.87,355.07 334.65,352.33 338.30,349.60 C341.95,346.87 345.65,343.90 349.30,341.40 C352.95,338.90 357.00,336.23 360.20,334.60 C363.40,332.97 366.58,332.18 368.50,331.60 C370.42,331.02 371.17,331.18 371.70,331.10" fill="none" stroke="#0000ee" stroke-width="2.1" stroke-dasharray="6.5,3.5,1.8,3.8"/>
<path d="M45.50,418.70 C46.00,417.33 47.42,412.87 48.50,410.50 C49.58,408.13 50.42,406.83 52.00,404.50 C53.58,402.17 55.62,399.17 58.00,396.50 C60.38,393.83 63.22,390.93 66.30,388.50 C69.38,386.07 72.88,383.77 76.50,381.90 C80.12,380.03 83.62,378.52 88.00,377.30 C92.38,376.08 97.47,375.25 102.80,374.60 C108.13,373.95 113.80,373.67 120.00,373.40 C126.20,373.13 131.67,372.97 140.00,373.00 C148.33,373.03 160.00,373.23 170.00,373.60 C180.00,373.97 187.20,374.50 200.00,375.20 C212.80,375.90 235.13,377.13 246.80,377.80 C258.47,378.47 261.97,378.70 270.00,379.20 C278.03,379.70 289.17,380.47 295.00,380.80 C300.83,381.13 302.17,381.17 305.00,381.20 C307.83,381.23 310.08,381.17 312.00,381.00 C313.92,380.83 314.85,380.63 316.50,380.20 C318.15,379.77 319.17,380.03 321.90,378.40 C324.63,376.77 328.88,373.02 332.90,370.40 C336.92,367.78 341.45,365.08 346.00,362.70 C350.55,360.32 356.53,357.65 360.20,356.10 C363.87,354.55 366.08,353.92 368.00,353.40 C369.92,352.88 371.08,353.07 371.70,353.00" fill="none" stroke="#00e5ff" stroke-width="2.1" stroke-dasharray="10,3.5,1.7,3.5,1.7,3.5"/>
<rect x="45.5" y="257.5" width="326.5" height="161.2" fill="none" stroke="#333" stroke-width="1"/>
<text x="45.50" y="429.90" fill="#222" text-anchor="middle" style='font-size:8.5px;font-family:"Liberation Sans", sans-serif;' >0.0</text>
<line x1="99.92" y1="418.70" x2="99.92" y2="415.70" stroke="#333" stroke-width="1" />
<line x1="99.92" y1="257.50" x2="99.92" y2="260.50" stroke="#333" stroke-width="1" />
<text x="99.92" y="429.90" fill="#222" text-anchor="middle" style='font-size:8.5px;font-family:"Liberation Sans", sans-serif;' >0.1</text>
<line x1="154.33" y1="418.70" x2="154.33" y2="415.70" stroke="#333" stroke-width="1" />
<line x1="154.33" y1="257.50" x2="154.33" y2="260.50" stroke="#333" stroke-width="1" />
<text x="154.33" y="429.90" fill="#222" text-anchor="middle" style='font-size:8.5px;font-family:"Liberation Sans", sans-serif;' >0.2</text>
<line x1="208.75" y1="418.70" x2="208.75" y2="415.70" stroke="#333" stroke-width="1" />
<line x1="208.75" y1="257.50" x2="208.75" y2="260.50" stroke="#333" stroke-width="1" />
<text x="208.75" y="429.90" fill="#222" text-anchor="middle" style='font-size:8.5px;font-family:"Liberation Sans", sans-serif;' >0.3</text>
<line x1="263.17" y1="418.70" x2="263.17" y2="415.70" stroke="#333" stroke-width="1" />
<line x1="263.17" y1="257.50" x2="263.17" y2="260.50" stroke="#333" stroke-width="1" />
<text x="263.17" y="429.90" fill="#222" text-anchor="middle" style='font-size:8.5px;font-family:"Liberation Sans", sans-serif;' >0.4</text>
<line x1="317.58" y1="418.70" x2="317.58" y2="415.70" stroke="#333" stroke-width="1" />
<line x1="317.58" y1="257.50" x2="317.58" y2="260.50" stroke="#333" stroke-width="1" />
<text x="317.58" y="429.90" fill="#222" text-anchor="middle" style='font-size:8.5px;font-family:"Liberation Sans", sans-serif;' >0.5</text>
<text x="372.00" y="429.90" fill="#222" text-anchor="middle" style='font-size:8.5px;font-family:"Liberation Sans", sans-serif;' >0.6</text>
<text x="41.30" y="421.30" fill="#222" text-anchor="end" style='font-size:8.5px;font-family:"Liberation Sans", sans-serif;' >0</text>
<line x1="45.50" y1="386.46" x2="48.50" y2="386.46" stroke="#333" stroke-width="1" />
<line x1="372.00" y1="386.46" x2="369.00" y2="386.46" stroke="#333" stroke-width="1" />
<text x="41.30" y="389.06" fill="#222" text-anchor="end" style='font-size:8.5px;font-family:"Liberation Sans", sans-serif;' >20</text>
<line x1="45.50" y1="354.22" x2="48.50" y2="354.22" stroke="#333" stroke-width="1" />
<line x1="372.00" y1="354.22" x2="369.00" y2="354.22" stroke="#333" stroke-width="1" />
<text x="41.30" y="356.82" fill="#222" text-anchor="end" style='font-size:8.5px;font-family:"Liberation Sans", sans-serif;' >40</text>
<line x1="45.50" y1="321.98" x2="48.50" y2="321.98" stroke="#333" stroke-width="1" />
<line x1="372.00" y1="321.98" x2="369.00" y2="321.98" stroke="#333" stroke-width="1" />
<text x="41.30" y="324.58" fill="#222" text-anchor="end" style='font-size:8.5px;font-family:"Liberation Sans", sans-serif;' >60</text>
<line x1="45.50" y1="289.74" x2="48.50" y2="289.74" stroke="#333" stroke-width="1" />
<line x1="372.00" y1="289.74" x2="369.00" y2="289.74" stroke="#333" stroke-width="1" />
<text x="41.30" y="292.34" fill="#222" text-anchor="end" style='font-size:8.5px;font-family:"Liberation Sans", sans-serif;' >80</text>
<text x="41.30" y="260.10" fill="#222" text-anchor="end" style='font-size:8.5px;font-family:"Liberation Sans", sans-serif;' >100</text>
<text x="0" y="0" transform="translate(22.8,338.4) rotate(-90)" text-anchor="middle" fill="#222" style='font-size:10px;font-family:"Liberation Sans",sans-serif'><tspan style="font-style:italic">F</tspan> (N)</text>
<text x="207.8" y="443.0" text-anchor="middle" fill="#222" style='font-size:10px;font-family:"Liberation Sans",sans-serif'>Δ<tspan style="font-style:italic">h</tspan>/<tspan style="font-style:italic">h</tspan></text>
</g>
<defs>
<linearGradient id="eTop" x1="0" y1="0" x2="1" y2="1"><stop offset="0" stop-color="#f0f0f0"/><stop offset="1" stop-color="#e0e0e0"/></linearGradient>
<linearGradient id="eT1" x1="0" y1="0" x2="1" y2="0"><stop offset="0" stop-color="#b0b0b0"/><stop offset="0.3" stop-color="#d6d6d6"/><stop offset="1" stop-color="#c6c6c6"/></linearGradient>
<linearGradient id="eBand" x1="0" y1="1" x2="1" y2="0"><stop offset="0" stop-color="#dedede"/><stop offset="0.3" stop-color="#eeeeee"/><stop offset="0.55" stop-color="#d2d2d2"/><stop offset="1" stop-color="#c0c0c0"/></linearGradient>
<linearGradient id="eRight" x1="0" y1="0" x2="1" y2="0"><stop offset="0" stop-color="#c8c8c8"/><stop offset="1" stop-color="#a2a2a2"/></linearGradient>
<linearGradient id="eL1" x1="0" y1="0" x2="1" y2="1"><stop offset="0" stop-color="#d2d2d2"/><stop offset="0.45" stop-color="#efefef"/><stop offset="1" stop-color="#cdcdcd"/></linearGradient>
<linearGradient id="eL2" x1="0" y1="0" x2="1" y2="1"><stop offset="0" stop-color="#d2d2d2"/><stop offset="1" stop-color="#b8b8b8"/></linearGradient>
<linearGradient id="eL3" x1="0" y1="0" x2="1" y2="0"><stop offset="0" stop-color="#b8b8b8"/><stop offset="1" stop-color="#9a9a9a"/></linearGradient>
<filter id="eblur" x="-20%" y="-50%" width="140%" height="200%"><feGaussianBlur stdDeviation="0.8"/></filter>
</defs>
<polygon points="545.0,305.0 550.0,318.0 549.5,345.0 544.0,352.0" fill="#a8a8a8" stroke="none" stroke-width="0.5" stroke-linejoin="round"/>
<polygon points="543.0,360.0 547.0,372.0 548.5,398.0 545.0,398.0" fill="#aaaaaa" stroke="none" stroke-width="0.5" stroke-linejoin="round"/>
<polygon points="441.2,306.7 499.6,315.1 437.5,349.4" fill="url(#eT1)" stroke="#a8a8a8" stroke-width="0.4" stroke-linejoin="round"/>
<polygon points="499.6,315.1 550.6,299.7 488.4,366.8 437.5,349.4" fill="url(#eBand)" stroke="#a8a8a8" stroke-width="0.4" stroke-linejoin="round"/>
<polygon points="550.6,299.7 543.1,353.2 488.4,366.8" fill="url(#eRight)" stroke="#a0a0a0" stroke-width="0.4" stroke-linejoin="round"/>
<polygon points="437.5,348.6 488.4,366.0 543.1,352.4 543.1,357.8 488.4,371.6 437.5,354.6" fill="#e4e4e4" stroke="none" stroke-width="0.5" stroke-linejoin="round"/>
<polyline points="437.5,351.0 488.4,368.4 543.1,354.8" fill="none" stroke="#a8a8a8" stroke-width="0.6"/>
<polyline points="437.5,353.2 488.4,370.4 543.1,356.8" fill="none" stroke="#a8a8a8" stroke-width="0.6"/>
<polyline points="437.5,348.6 488.4,366.0 543.1,352.4" fill="none" stroke="#909090" stroke-width="0.6"/>
<polygon points="439.5,354.5 499.6,421.5 444.9,406.6" fill="url(#eL1)" stroke="#a8a8a8" stroke-width="0.4" stroke-linejoin="round"/>
<polygon points="439.5,354.5 488.4,371.5 548.1,399.1 499.6,421.5" fill="url(#eL2)" stroke="#a0a0a0" stroke-width="0.4" stroke-linejoin="round"/>
<polygon points="488.4,371.5 543.1,357.5 548.1,399.1" fill="url(#eL3)" stroke="#999" stroke-width="0.4" stroke-linejoin="round"/>
<polygon points="439.5,356.0 444.5,360.0 447.0,405.0 443.5,406.0" fill="#dadada" stroke="none" stroke-width="0.5" stroke-linejoin="round"/>
<circle cx="441.8" cy="362.4" r="0.9" fill="#e0e0e0" stroke="#8a8a8a" stroke-width="0.45"/>
<circle cx="442.2" cy="367.2" r="0.9" fill="#e0e0e0" stroke="#8a8a8a" stroke-width="0.45"/>
<circle cx="442.5" cy="371.9" r="0.9" fill="#e0e0e0" stroke="#8a8a8a" stroke-width="0.45"/>
<circle cx="442.9" cy="376.7" r="0.9" fill="#e0e0e0" stroke="#8a8a8a" stroke-width="0.45"/>
<circle cx="443.3" cy="381.5" r="0.9" fill="#e0e0e0" stroke="#8a8a8a" stroke-width="0.45"/>
<circle cx="443.7" cy="386.3" r="0.9" fill="#e0e0e0" stroke="#8a8a8a" stroke-width="0.45"/>
<circle cx="444.1" cy="391.1" r="0.9" fill="#e0e0e0" stroke="#8a8a8a" stroke-width="0.45"/>
<circle cx="444.4" cy="395.8" r="0.9" fill="#e0e0e0" stroke="#8a8a8a" stroke-width="0.45"/>
<circle cx="444.8" cy="400.6" r="0.9" fill="#e0e0e0" stroke="#8a8a8a" stroke-width="0.45"/>
<polygon points="444.9,405.0 499.6,419.8 548.1,397.5 548.1,401.2 499.6,423.5 444.9,408.8" fill="#e6e6e6" stroke="none" stroke-width="0.5" stroke-linejoin="round"/>
<polyline points="444.9,408.8 499.6,423.5 548.1,401.2" fill="none" stroke="#8c8c8c" stroke-width="0.7"/>
<circle cx="450.5" cy="404.6" r="1.35" fill="#e4e4e4" stroke="#7a7a7a" stroke-width="0.55"/>
<circle cx="456.3" cy="406.2" r="1.35" fill="#e4e4e4" stroke="#7a7a7a" stroke-width="0.55"/>
<circle cx="462.1" cy="407.8" r="1.35" fill="#e4e4e4" stroke="#7a7a7a" stroke-width="0.55"/>
<circle cx="467.9" cy="409.5" r="1.35" fill="#e4e4e4" stroke="#7a7a7a" stroke-width="0.55"/>
<circle cx="473.7" cy="411.1" r="1.35" fill="#e4e4e4" stroke="#7a7a7a" stroke-width="0.55"/>
<circle cx="479.6" cy="412.7" r="1.35" fill="#e4e4e4" stroke="#7a7a7a" stroke-width="0.55"/>
<circle cx="485.4" cy="414.3" r="1.35" fill="#e4e4e4" stroke="#7a7a7a" stroke-width="0.55"/>
<circle cx="491.2" cy="416.0" r="1.35" fill="#e4e4e4" stroke="#7a7a7a" stroke-width="0.55"/>
<circle cx="505.0" cy="415.1" r="1.3" fill="#e4e4e4" stroke="#7a7a7a" stroke-width="0.55"/>
<circle cx="510.0" cy="412.8" r="1.3" fill="#e4e4e4" stroke="#7a7a7a" stroke-width="0.55"/>
<circle cx="515.0" cy="410.5" r="1.3" fill="#e4e4e4" stroke="#7a7a7a" stroke-width="0.55"/>
<circle cx="520.0" cy="408.1" r="1.3" fill="#e4e4e4" stroke="#7a7a7a" stroke-width="0.55"/>
<circle cx="525.0" cy="405.8" r="1.3" fill="#e4e4e4" stroke="#7a7a7a" stroke-width="0.55"/>
<circle cx="530.0" cy="403.5" r="1.3" fill="#e4e4e4" stroke="#7a7a7a" stroke-width="0.55"/>
<circle cx="535.0" cy="401.2" r="1.3" fill="#e4e4e4" stroke="#7a7a7a" stroke-width="0.55"/>
<circle cx="540.0" cy="398.8" r="1.3" fill="#e4e4e4" stroke="#7a7a7a" stroke-width="0.55"/>
<polygon points="436.2,272.4 441.2,303.4 499.6,310.9 550.6,296.0 550.6,299.7 499.6,314.6 441.2,306.9" fill="#ececec" stroke="none" stroke-width="0.5" stroke-linejoin="round"/>
<polyline points="441.2,306.9 499.6,314.6 550.6,299.7" fill="none" stroke="#8c8c8c" stroke-width="0.6"/>
<circle cx="448.8" cy="310.2" r="1.25" fill="#d8d8d8" stroke="#7a7a7a" stroke-width="0.55"/>
<circle cx="454.5" cy="311.0" r="1.25" fill="#d8d8d8" stroke="#7a7a7a" stroke-width="0.55"/>
<circle cx="460.2" cy="311.8" r="1.25" fill="#d8d8d8" stroke="#7a7a7a" stroke-width="0.55"/>
<circle cx="465.8" cy="312.6" r="1.25" fill="#d8d8d8" stroke="#7a7a7a" stroke-width="0.55"/>
<circle cx="471.5" cy="313.4" r="1.25" fill="#d8d8d8" stroke="#7a7a7a" stroke-width="0.55"/>
<circle cx="477.2" cy="314.2" r="1.25" fill="#d8d8d8" stroke="#7a7a7a" stroke-width="0.55"/>
<circle cx="482.8" cy="315.0" r="1.25" fill="#d8d8d8" stroke="#7a7a7a" stroke-width="0.55"/>
<circle cx="488.5" cy="315.8" r="1.25" fill="#d8d8d8" stroke="#7a7a7a" stroke-width="0.55"/>
<circle cx="494.2" cy="316.6" r="1.25" fill="#d8d8d8" stroke="#7a7a7a" stroke-width="0.55"/>
<circle cx="505.2" cy="314.5" r="1.0" fill="#d8d8d8" stroke="#8a8a8a" stroke-width="0.5"/>
<circle cx="509.8" cy="313.2" r="1.0" fill="#d8d8d8" stroke="#8a8a8a" stroke-width="0.5"/>
<circle cx="514.2" cy="311.9" r="1.0" fill="#d8d8d8" stroke="#8a8a8a" stroke-width="0.5"/>
<circle cx="518.8" cy="310.6" r="1.0" fill="#d8d8d8" stroke="#8a8a8a" stroke-width="0.5"/>
<circle cx="523.2" cy="309.3" r="1.0" fill="#d8d8d8" stroke="#8a8a8a" stroke-width="0.5"/>
<circle cx="527.8" cy="307.9" r="1.0" fill="#d8d8d8" stroke="#8a8a8a" stroke-width="0.5"/>
<circle cx="532.2" cy="306.6" r="1.0" fill="#d8d8d8" stroke="#8a8a8a" stroke-width="0.5"/>
<circle cx="536.8" cy="305.3" r="1.0" fill="#d8d8d8" stroke="#8a8a8a" stroke-width="0.5"/>
<circle cx="541.2" cy="304.0" r="1.0" fill="#d8d8d8" stroke="#8a8a8a" stroke-width="0.5"/>
<circle cx="545.8" cy="302.7" r="1.0" fill="#d8d8d8" stroke="#8a8a8a" stroke-width="0.5"/>
<polygon points="436.2,272.4 484.7,255.5 543.1,266.2 550.6,296.0 499.6,310.9 441.2,303.4" fill="url(#eTop)" stroke="#a0a0a0" stroke-width="0.6" stroke-linejoin="round"/>
<defs><linearGradient id="eHoleM" x1="0" y1="0" x2="1" y2="1"><stop offset="0" stop-color="#bdbdbd"/><stop offset="1" stop-color="#c9c9c9"/></linearGradient><linearGradient id="eHoleR2" x1="0" y1="0" x2="1" y2="0"><stop offset="0" stop-color="#f2f2f2"/><stop offset="0.25" stop-color="#d6d6d6"/><stop offset="1" stop-color="#e4e4e4"/></linearGradient></defs>
<polygon points="453.3,275.3 488.0,263.8 526.8,271.2 533.1,291.3 497.7,304.5 457.5,296.1" fill="url(#eHoleM)" stroke="none" stroke-width="0.5" stroke-linejoin="round"/>
<polygon points="455.0,284.0 457.5,296.1 494.0,303.6 484.0,298.5" fill="#9c9c9c" stroke="none" stroke-width="0.5" stroke-linejoin="round"/>
<polygon points="492.2,266.5 526.8,271.2 533.1,291.3 518.5,297.0" fill="url(#eHoleR2)" stroke="none" stroke-width="0.5" stroke-linejoin="round"/>
<polygon points="453.3,275.3 488.0,263.8 489.0,266.2 454.2,278.0" fill="#8e8e8e" stroke="none" stroke-width="0.5" stroke-linejoin="round"/>
<polygon points="488.0,263.8 526.8,271.2 526.3,273.4 489.0,266.2" fill="#fafafa" stroke="none" stroke-width="0.5" stroke-linejoin="round"/>
<ellipse cx="508" cy="296.5" rx="7" ry="1.8" fill="#fff" opacity="0.85" transform="rotate(-12 508 296.5)"/>
<polygon points="453.3,275.3 488.0,263.8 526.8,271.2 533.1,291.3 497.7,304.5 457.5,296.1" fill="none" stroke="#8c8c8c" stroke-width="0.6" stroke-linejoin="round"/>
<path d="M446,348.5 Q468,343.5 494,336.5 Q497,336.5 495,338.8 Q470,347.5 450,350.5 Z" fill="#fff" filter="url(#eblur)"/>
<path d="M449,361.5 Q466,370 483,383 Q484.5,385.5 481.5,384.5 Q463,374 448,364 Z" fill="#fff" filter="url(#eblur)"/>
<text x="610.6" y="400.8" fill="#111" style='font-size:11px;font-family:"Liberation Serif",serif'>3</text>
<path d="M616.0,397.4 L617.4,396.2 L619.3,401.2 L622.3,391.8 L628.9,391.8" fill="none" stroke="#111" stroke-width="0.8" stroke-linejoin="miter"/>
<text x="623.4" y="400.8" fill="#111" style='font-size:11px;font-family:"Liberation Serif",serif'>3</text>
<text x="631.3" y="400.8" fill="#111" style='font-size:11px;font-family:"Liberation Serif",serif'>mm</text>
<polyline points="441.2,306.9 437.5,348.6 437.5,354.6 439.5,356 443.5,406 444.9,408.8 499.6,423.5 548.1,401.2 548.1,397.5 545,360 543.1,357.8 543.1,352.4 549.5,345 550,318 550.6,299.7" fill="none" stroke="#8a8a8a" stroke-width="0.6" stroke-linejoin="round"/>
<text x="531.8" y="417.3" fill="#111" style='font-size:9.6px;font-family:"Liberation Sans",sans-serif'>10 mm</text>
<rect x="533.2" y="418.6" width="26.6" height="2.3" fill="#000"/>
<rect x="579.3" y="263.4" width="90.6" height="148.7" fill="none" stroke="#8a8a8a" stroke-width="1.2" stroke-dasharray="3.4,2"/>
<text x="589.6" y="278.8" fill="#111" style='font-size:11px;font-family:"Liberation Serif",serif;font-style:italic'>n</text>
<text x="598.6" y="278.8" fill="#111" stroke="#111" stroke-width="0.2" style='font-size:11px;font-family:"Liberation Serif",serif'>=</text>
<text x="608.3" y="278.8" fill="#111" style='font-size:11px;font-family:"Liberation Serif",serif'>6</text>
<text x="589.6" y="296.0" fill="#111" style='font-size:11px;font-family:"Liberation Serif",serif;font-style:italic'>θ</text>
<text x="598.6" y="296.0" fill="#111" stroke="#111" stroke-width="0.2" style='font-size:11px;font-family:"Liberation Serif",serif'>=</text>
<text x="608.3" y="296.0" fill="#111" style='font-size:11px;font-family:"Liberation Serif",serif'>72°</text>
<text x="589.6" y="313.1" fill="#111" style='font-size:11px;font-family:"Liberation Serif",serif;font-style:italic'>h</text>
<text x="598.6" y="313.1" fill="#111" stroke="#111" stroke-width="0.2" style='font-size:11px;font-family:"Liberation Serif",serif'>=</text>
<text x="608.3" y="313.1" fill="#111" style='font-size:11px;font-family:"Liberation Serif",serif'>40 mm</text>
<text x="589.6" y="330.5" fill="#111" style='font-size:11px;font-family:"Liberation Serif",serif;font-style:italic'>a</text>
<text x="598.6" y="330.5" fill="#111" stroke="#111" stroke-width="0.2" style='font-size:11px;font-family:"Liberation Serif",serif'>=</text>
<text x="608.3" y="330.5" fill="#111" style='font-size:11px;font-family:"Liberation Serif",serif'>20 mm</text>
<text x="589.6" y="348.2" fill="#111" style='font-size:11px;font-family:"Liberation Serif",serif;font-style:italic'>b</text>
<text x="598.6" y="348.2" fill="#111" stroke="#111" stroke-width="0.2" style='font-size:11px;font-family:"Liberation Serif",serif'>=</text>
<text x="608.3" y="348.2" fill="#111" style='font-size:11px;font-family:"Liberation Serif",serif'>18 mm</text>
<text x="589.6" y="365.8" fill="#111" style='font-size:11px;font-family:"Liberation Serif",serif;font-style:italic'>c</text>
<text x="598.6" y="365.8" fill="#111" stroke="#111" stroke-width="0.2" style='font-size:11px;font-family:"Liberation Serif",serif'>=</text>
<text x="607.6" y="365.8" fill="#111" style='font-size:11px;font-family:"Liberation Serif",serif'>1 mm</text>
<text x="589.6" y="383.5" fill="#111" style='font-size:11px;font-family:"Liberation Serif",serif;font-style:italic'>t</text>
<text x="597.0" y="383.5" fill="#111" stroke="#111" stroke-width="0.2" style='font-size:11px;font-family:"Liberation Serif",serif'>=</text>
<text x="607.6" y="383.5" fill="#111" style='font-size:11px;font-family:"Liberation Serif",serif'>1 mm</text>
<text x="589.6" y="400.8" fill="#111" style='font-size:11px;font-family:"Liberation Serif",serif;font-style:italic'>w</text>
<text x="600.2" y="400.8" fill="#111" stroke="#111" stroke-width="0.2" style='font-size:11px;font-family:"Liberation Serif",serif'>=</text>
<text x="610.8" y="400.8" fill="#111" style='font-size:11px;font-family:"Liberation Serif",serif'></text>
<rect x="56.3" y="466.3" width="263.90" height="212.00" fill="none" stroke="#333" stroke-width="1"/>
<text x="56.30" y="689.80" fill="#222" text-anchor="middle" style='font-size:8.6px;font-family:"Liberation Sans", sans-serif;' >0</text>
<line x1="94.00" y1="678.30" x2="94.00" y2="674.80" stroke="#333" stroke-width="1" />
<line x1="94.00" y1="466.30" x2="94.00" y2="469.80" stroke="#333" stroke-width="1" />
<text x="94.00" y="689.80" fill="#222" text-anchor="middle" style='font-size:8.6px;font-family:"Liberation Sans", sans-serif;' >100</text>
<line x1="131.70" y1="678.30" x2="131.70" y2="674.80" stroke="#333" stroke-width="1" />
<line x1="131.70" y1="466.30" x2="131.70" y2="469.80" stroke="#333" stroke-width="1" />
<text x="131.70" y="689.80" fill="#222" text-anchor="middle" style='font-size:8.6px;font-family:"Liberation Sans", sans-serif;' >200</text>
<line x1="169.40" y1="678.30" x2="169.40" y2="674.80" stroke="#333" stroke-width="1" />
<line x1="169.40" y1="466.30" x2="169.40" y2="469.80" stroke="#333" stroke-width="1" />
<text x="169.40" y="689.80" fill="#222" text-anchor="middle" style='font-size:8.6px;font-family:"Liberation Sans", sans-serif;' >300</text>
<line x1="207.10" y1="678.30" x2="207.10" y2="674.80" stroke="#333" stroke-width="1" />
<line x1="207.10" y1="466.30" x2="207.10" y2="469.80" stroke="#333" stroke-width="1" />
<text x="207.10" y="689.80" fill="#222" text-anchor="middle" style='font-size:8.6px;font-family:"Liberation Sans", sans-serif;' >400</text>
<line x1="244.80" y1="678.30" x2="244.80" y2="674.80" stroke="#333" stroke-width="1" />
<line x1="244.80" y1="466.30" x2="244.80" y2="469.80" stroke="#333" stroke-width="1" />
<text x="244.80" y="689.80" fill="#222" text-anchor="middle" style='font-size:8.6px;font-family:"Liberation Sans", sans-serif;' >500</text>
<line x1="282.50" y1="678.30" x2="282.50" y2="674.80" stroke="#333" stroke-width="1" />
<line x1="282.50" y1="466.30" x2="282.50" y2="469.80" stroke="#333" stroke-width="1" />
<text x="282.50" y="689.80" fill="#222" text-anchor="middle" style='font-size:8.6px;font-family:"Liberation Sans", sans-serif;' >600</text>
<text x="320.20" y="689.80" fill="#222" text-anchor="middle" style='font-size:8.6px;font-family:"Liberation Sans", sans-serif;' >700</text>
<line x1="56.30" y1="662.30" x2="59.80" y2="662.30" stroke="#333" stroke-width="1" />
<line x1="320.20" y1="662.30" x2="316.70" y2="662.30" stroke="#333" stroke-width="1" />
<text x="51.90" y="665.30" fill="#222" text-anchor="end" style='font-size:8.6px;font-family:"Liberation Sans", sans-serif;' >0.3</text>
<line x1="56.30" y1="632.15" x2="59.80" y2="632.15" stroke="#333" stroke-width="1" />
<line x1="320.20" y1="632.15" x2="316.70" y2="632.15" stroke="#333" stroke-width="1" />
<text x="51.90" y="635.15" fill="#222" text-anchor="end" style='font-size:8.6px;font-family:"Liberation Sans", sans-serif;' >0.4</text>
<line x1="56.30" y1="602.00" x2="59.80" y2="602.00" stroke="#333" stroke-width="1" />
<line x1="320.20" y1="602.00" x2="316.70" y2="602.00" stroke="#333" stroke-width="1" />
<text x="51.90" y="605.00" fill="#222" text-anchor="end" style='font-size:8.6px;font-family:"Liberation Sans", sans-serif;' >0.5</text>
<line x1="56.30" y1="571.85" x2="59.80" y2="571.85" stroke="#333" stroke-width="1" />
<line x1="320.20" y1="571.85" x2="316.70" y2="571.85" stroke="#333" stroke-width="1" />
<text x="51.90" y="574.85" fill="#222" text-anchor="end" style='font-size:8.6px;font-family:"Liberation Sans", sans-serif;' >0.6</text>
<line x1="56.30" y1="541.70" x2="59.80" y2="541.70" stroke="#333" stroke-width="1" />
<line x1="320.20" y1="541.70" x2="316.70" y2="541.70" stroke="#333" stroke-width="1" />
<text x="51.90" y="544.70" fill="#222" text-anchor="end" style='font-size:8.6px;font-family:"Liberation Sans", sans-serif;' >0.7</text>
<line x1="56.30" y1="511.55" x2="59.80" y2="511.55" stroke="#333" stroke-width="1" />
<line x1="320.20" y1="511.55" x2="316.70" y2="511.55" stroke="#333" stroke-width="1" />
<text x="51.90" y="514.55" fill="#222" text-anchor="end" style='font-size:8.6px;font-family:"Liberation Sans", sans-serif;' >0.8</text>
<line x1="56.30" y1="481.40" x2="59.80" y2="481.40" stroke="#333" stroke-width="1" />
<line x1="320.20" y1="481.40" x2="316.70" y2="481.40" stroke="#333" stroke-width="1" />
<text x="51.90" y="484.40" fill="#222" text-anchor="end" style='font-size:8.6px;font-family:"Liberation Sans", sans-serif;' >0.9</text>
<text x="0" y="0" transform="translate(32.6,571.5) rotate(-90)" text-anchor="middle" fill="#222" style='font-size:10.2px;font-family:"Liberation Sans",sans-serif;font-style:italic'>EEA</text>
<text x="158.9" y="701.6" fill="#222" style='font-size:10.4px;font-family:"Liberation Sans",sans-serif'>Density (kg/m<tspan dy="-3.5" style="font-size:7px">3</tspan><tspan dy="3.5">)</tspan></text>
<rect x="168.95" y="535.55" width="7.7" height="7.7" fill="#000"/>
<rect x="136.55" y="557.65" width="7.7" height="7.7" fill="#000"/>
<rect x="155.05" y="570.55" width="7.7" height="7.7" fill="#000"/>
<rect x="211.15" y="562.15" width="7.7" height="7.7" fill="#000"/>
<rect x="248.15" y="551.75" width="7.7" height="7.7" fill="#000"/>
<polygon points="117.70,506.80 127.90,506.80 122.80,497.80" fill="#0000ff" />
<polygon points="144.10,520.30 154.30,520.30 149.20,511.30" fill="#0000ff" />
<polygon points="162.80,531.40 173.00,531.40 167.90,522.40" fill="#0000ff" />
<polygon points="270.70,499.90 275.80,505.00 270.70,510.10 265.60,505.00" fill="#7f00ff" />
<polygon points="247.60,526.40 252.70,531.50 247.60,536.60 242.50,531.50" fill="#7f00ff" />
<polygon points="298.30,526.80 303.40,531.90 298.30,537.00 293.20,531.90" fill="#7f00ff" />
<polygon points="279.90,544.80 285.00,549.90 279.90,555.00 274.80,549.90" fill="#7f00ff" />
<polygon points="79.20,514.15 75.09,511.77 75.09,507.02 79.20,504.65 83.31,507.02 83.31,511.77" fill="#ff00ff" />
<polygon points="76.20,591.55 72.09,589.17 72.09,584.42 76.20,582.05 80.31,584.42 80.31,589.17" fill="#ff00ff" />
<polygon points="75.40,607.85 71.29,605.48 71.29,600.73 75.40,598.35 79.51,600.73 79.51,605.48" fill="#ff00ff" />
<polygon points="76.20,665.55 72.09,663.17 72.09,658.42 76.20,656.05 80.31,658.42 80.31,663.17" fill="#ff00ff" />
<polygon points="103.10,501.20 108.05,504.79 106.16,510.61 100.04,510.61 98.15,504.79" fill="#007f00" />
<polygon points="142.20,507.90 143.49,511.52 147.34,511.63 144.29,513.98 145.37,517.67 142.20,515.50 139.03,517.67 140.11,513.98 137.06,511.63 140.91,511.52" fill="#9010c8" />
<polygon points="183.60,545.10 184.89,548.72 188.74,548.83 185.69,551.18 186.77,554.87 183.60,552.70 180.43,554.87 181.51,551.18 178.46,548.83 182.31,548.72" fill="#9010c8" />
<polygon points="226.20,534.80 227.49,538.42 231.34,538.53 228.29,540.88 229.37,544.57 226.20,542.40 223.03,544.57 224.11,540.88 221.06,538.53 224.91,538.42" fill="#9010c8" />
<polygon points="106.00,531.50 116.20,531.50 111.10,540.50" fill="#808080" />
<polygon points="106.40,590.50 116.60,590.50 111.50,599.50" fill="#808080" />
<polygon points="105.40,642.60 115.60,642.60 110.50,651.60" fill="#808080" />
<polygon points="91.70,538.70 96.80,543.80 91.70,548.90 86.60,543.80" fill="#e0a838" />
<polygon points="92.10,578.20 97.20,583.30 92.10,588.40 87.00,583.30" fill="#e0a838" />
<polygon points="105.00,590.30 110.10,595.40 105.00,600.50 99.90,595.40" fill="#e0a838" />
<polygon points="133.50,512.30 133.50,522.70 142.70,517.50" fill="#ff8000" />
<polygon points="146.40,531.20 146.40,541.60 155.60,536.40" fill="#ff8000" />
<polygon points="132.90,546.20 132.90,556.60 142.10,551.40" fill="#ff8000" />
<polygon points="130.00,554.40 130.00,564.80 139.20,559.60" fill="#ff8000" />
<polygon points="135.80,565.70 135.80,576.10 145.00,570.90" fill="#ff8000" />
<polygon points="146.20,588.10 146.20,598.50 155.40,593.30" fill="#ff8000" />
<circle cx="89.60" cy="477.70" r="4.3" fill="url(#ball)"/>
<circle cx="95.40" cy="479.90" r="4.3" fill="url(#ball)"/>
<circle cx="94.70" cy="484.60" r="4.3" fill="url(#ball)"/>
<circle cx="84.90" cy="486.40" r="4.3" fill="url(#ball)"/>
<circle cx="81.20" cy="490.10" r="4.3" fill="url(#ball)"/>
<circle cx="94.00" cy="490.40" r="4.3" fill="url(#ball)"/>
<circle cx="99.50" cy="489.30" r="4.3" fill="url(#ball)"/>
<circle cx="101.30" cy="492.60" r="4.3" fill="url(#ball)"/>
<circle cx="104.90" cy="492.60" r="4.3" fill="url(#ball)"/>
<circle cx="108.20" cy="495.50" r="4.3" fill="url(#ball)"/>
<circle cx="114.40" cy="495.20" r="4.3" fill="url(#ball)"/>
<circle cx="98.70" cy="498.80" r="4.3" fill="url(#ball)"/>
<circle cx="93.20" cy="503.20" r="4.3" fill="url(#ball)"/>
<circle cx="92.90" cy="508.70" r="4.3" fill="url(#ball)"/>
<circle cx="99.50" cy="514.20" r="4.3" fill="url(#ball)"/>
<circle cx="89.20" cy="527.00" r="4.3" fill="url(#ball)"/>
<circle cx="100.90" cy="529.90" r="4.3" fill="url(#ball)"/>
<circle cx="100.90" cy="544.20" r="4.3" fill="url(#ball)"/>
<circle cx="125.30" cy="507.60" r="4.3" fill="url(#ball)"/>
<circle cx="136.90" cy="508.20" r="4.3" fill="url(#ball)"/>
<circle cx="132.30" cy="516.90" r="4.3" fill="url(#ball)"/>
<circle cx="145.10" cy="524.50" r="4.3" fill="url(#ball)"/>
<circle cx="158.60" cy="499.00" r="4.3" fill="url(#ball)"/>
<circle cx="170.90" cy="500.60" r="4.3" fill="url(#ball)"/>
<circle cx="160.90" cy="513.40" r="4.3" fill="url(#ball)"/>
<circle cx="157.10" cy="519.90" r="4.3" fill="url(#ball)"/>
<circle cx="184.80" cy="512.30" r="4.3" fill="url(#ball)"/>
<circle cx="193.00" cy="512.60" r="4.3" fill="url(#ball)"/>
<rect x="246.65" y="567.65" width="7.7" height="7.7" fill="#000"/>
<text x="262.1" y="574.40" fill="#222" style='font-size:7.9px;font-family:"Liberation Sans",sans-serif'>Honeycombs<tspan dy="-3.0" style="font-size:5.4px">62</tspan></text>
<polygon points="245.40,586.70 255.60,586.70 250.50,577.70" fill="#0000ff" />
<text x="262.1" y="585.10" fill="#222" style='font-size:7.9px;font-family:"Liberation Sans",sans-serif'>Gyroid<tspan dy="-3.0" style="font-size:5.4px">63</tspan></text>
<polygon points="250.50,588.00 255.60,593.10 250.50,598.20 245.40,593.10" fill="#7f00ff" />
<text x="262.1" y="596.00" fill="#222" style='font-size:7.9px;font-family:"Liberation Sans",sans-serif'>Bio-inspired<tspan dy="-3.0" style="font-size:5.4px">64</tspan></text>
<polygon points="250.50,608.85 246.39,606.48 246.39,601.73 250.50,599.35 254.61,601.73 254.61,606.48" fill="#ff00ff" />
<text x="262.1" y="607.00" fill="#222" style='font-size:7.9px;font-family:"Liberation Sans",sans-serif'>Kresling<tspan dy="-3.0" style="font-size:5.4px">50</tspan></text>
<polygon points="250.50,610.20 255.45,613.79 253.56,619.61 247.44,619.61 245.55,613.79" fill="#007f00" />
<text x="262.1" y="617.70" fill="#222" style='font-size:7.9px;font-family:"Liberation Sans",sans-serif'>Auxetic<tspan dy="-3.0" style="font-size:5.4px">65</tspan></text>
<polygon points="250.50,621.10 251.79,624.72 255.64,624.83 252.59,627.18 253.67,630.87 250.50,628.70 247.33,630.87 248.41,627.18 245.36,624.83 249.21,624.72" fill="#9010c8" />
<text x="262.1" y="628.90" fill="#222" style='font-size:7.9px;font-family:"Liberation Sans",sans-serif'>Diamond<tspan dy="-3.0" style="font-size:5.4px">66</tspan></text>
<polygon points="245.40,632.40 255.60,632.40 250.50,641.40" fill="#808080" />
<text x="262.1" y="639.80" fill="#222" style='font-size:7.9px;font-family:"Liberation Sans",sans-serif'>Spinodoid<tspan dy="-3.0" style="font-size:5.4px">67</tspan></text>
<polygon points="250.50,642.80 255.60,647.90 250.50,653.00 245.40,647.90" fill="#e0a838" />
<text x="262.1" y="650.80" fill="#222" style='font-size:7.9px;font-family:"Liberation Sans",sans-serif'>GCS<tspan dy="-3.0" style="font-size:5.4px">56</tspan></text>
<polygon points="245.90,653.60 245.90,664.00 255.10,658.80" fill="#ff8000" />
<text x="262.1" y="661.70" fill="#222" style='font-size:7.9px;font-family:"Liberation Sans",sans-serif'>Line-oriented<tspan dy="-3.0" style="font-size:5.4px">68</tspan></text>
<circle cx="250.50" cy="669.30" r="4.3" fill="url(#ball)"/>
<text x="262.1" y="672.20" fill="#222" style='font-size:7.9px;font-family:"Liberation Sans",sans-serif'>CMCS</text>
<rect x="410.5" y="465.8" width="263.90" height="211.70" fill="none" stroke="#333" stroke-width="1"/>
<text x="410.50" y="689.80" fill="#222" text-anchor="middle" style='font-size:8.6px;font-family:"Liberation Sans", sans-serif;' >0</text>
<line x1="448.20" y1="677.50" x2="448.20" y2="674.00" stroke="#333" stroke-width="1" />
<line x1="448.20" y1="465.80" x2="448.20" y2="469.30" stroke="#333" stroke-width="1" />
<text x="448.20" y="689.80" fill="#222" text-anchor="middle" style='font-size:8.6px;font-family:"Liberation Sans", sans-serif;' >100</text>
<line x1="485.90" y1="677.50" x2="485.90" y2="674.00" stroke="#333" stroke-width="1" />
<line x1="485.90" y1="465.80" x2="485.90" y2="469.30" stroke="#333" stroke-width="1" />
<text x="485.90" y="689.80" fill="#222" text-anchor="middle" style='font-size:8.6px;font-family:"Liberation Sans", sans-serif;' >200</text>
<line x1="523.60" y1="677.50" x2="523.60" y2="674.00" stroke="#333" stroke-width="1" />
<line x1="523.60" y1="465.80" x2="523.60" y2="469.30" stroke="#333" stroke-width="1" />
<text x="523.60" y="689.80" fill="#222" text-anchor="middle" style='font-size:8.6px;font-family:"Liberation Sans", sans-serif;' >300</text>
<line x1="561.30" y1="677.50" x2="561.30" y2="674.00" stroke="#333" stroke-width="1" />
<line x1="561.30" y1="465.80" x2="561.30" y2="469.30" stroke="#333" stroke-width="1" />
<text x="561.30" y="689.80" fill="#222" text-anchor="middle" style='font-size:8.6px;font-family:"Liberation Sans", sans-serif;' >400</text>
<line x1="599.00" y1="677.50" x2="599.00" y2="674.00" stroke="#333" stroke-width="1" />
<line x1="599.00" y1="465.80" x2="599.00" y2="469.30" stroke="#333" stroke-width="1" />
<text x="599.00" y="689.80" fill="#222" text-anchor="middle" style='font-size:8.6px;font-family:"Liberation Sans", sans-serif;' >500</text>
<line x1="636.70" y1="677.50" x2="636.70" y2="674.00" stroke="#333" stroke-width="1" />
<line x1="636.70" y1="465.80" x2="636.70" y2="469.30" stroke="#333" stroke-width="1" />
<text x="636.70" y="689.80" fill="#222" text-anchor="middle" style='font-size:8.6px;font-family:"Liberation Sans", sans-serif;' >600</text>
<text x="674.40" y="689.80" fill="#222" text-anchor="middle" style='font-size:8.6px;font-family:"Liberation Sans", sans-serif;' >700</text>
<line x1="410.50" y1="677.30" x2="414.00" y2="677.30" stroke="#333" stroke-width="0.9" />
<line x1="674.40" y1="677.30" x2="670.90" y2="677.30" stroke="#333" stroke-width="0.9" />
<line x1="410.50" y1="650.78" x2="412.50" y2="650.78" stroke="#333" stroke-width="0.9" />
<line x1="674.40" y1="650.78" x2="672.40" y2="650.78" stroke="#333" stroke-width="0.9" />
<line x1="410.50" y1="635.27" x2="412.50" y2="635.27" stroke="#333" stroke-width="0.9" />
<line x1="674.40" y1="635.27" x2="672.40" y2="635.27" stroke="#333" stroke-width="0.9" />
<line x1="410.50" y1="624.26" x2="412.50" y2="624.26" stroke="#333" stroke-width="0.9" />
<line x1="674.40" y1="624.26" x2="672.40" y2="624.26" stroke="#333" stroke-width="0.9" />
<line x1="410.50" y1="615.72" x2="412.50" y2="615.72" stroke="#333" stroke-width="0.9" />
<line x1="674.40" y1="615.72" x2="672.40" y2="615.72" stroke="#333" stroke-width="0.9" />
<line x1="410.50" y1="608.74" x2="412.50" y2="608.74" stroke="#333" stroke-width="0.9" />
<line x1="674.40" y1="608.74" x2="672.40" y2="608.74" stroke="#333" stroke-width="0.9" />
<line x1="410.50" y1="602.85" x2="412.50" y2="602.85" stroke="#333" stroke-width="0.9" />
<line x1="674.40" y1="602.85" x2="672.40" y2="602.85" stroke="#333" stroke-width="0.9" />
<line x1="410.50" y1="597.74" x2="412.50" y2="597.74" stroke="#333" stroke-width="0.9" />
<line x1="674.40" y1="597.74" x2="672.40" y2="597.74" stroke="#333" stroke-width="0.9" />
<line x1="410.50" y1="593.23" x2="412.50" y2="593.23" stroke="#333" stroke-width="0.9" />
<line x1="674.40" y1="593.23" x2="672.40" y2="593.23" stroke="#333" stroke-width="0.9" />
<text x="406.20" y="680.30" fill="#222" text-anchor="end" style='font-size:8.6px;font-family:"Liberation Sans", sans-serif;' >10</text>
<line x1="410.50" y1="589.20" x2="414.00" y2="589.20" stroke="#333" stroke-width="0.9" />
<line x1="674.40" y1="589.20" x2="670.90" y2="589.20" stroke="#333" stroke-width="0.9" />
<line x1="410.50" y1="562.68" x2="412.50" y2="562.68" stroke="#333" stroke-width="0.9" />
<line x1="674.40" y1="562.68" x2="672.40" y2="562.68" stroke="#333" stroke-width="0.9" />
<line x1="410.50" y1="547.17" x2="412.50" y2="547.17" stroke="#333" stroke-width="0.9" />
<line x1="674.40" y1="547.17" x2="672.40" y2="547.17" stroke="#333" stroke-width="0.9" />
<line x1="410.50" y1="536.16" x2="412.50" y2="536.16" stroke="#333" stroke-width="0.9" />
<line x1="674.40" y1="536.16" x2="672.40" y2="536.16" stroke="#333" stroke-width="0.9" />
<line x1="410.50" y1="527.62" x2="412.50" y2="527.62" stroke="#333" stroke-width="0.9" />
<line x1="674.40" y1="527.62" x2="672.40" y2="527.62" stroke="#333" stroke-width="0.9" />
<line x1="410.50" y1="520.64" x2="412.50" y2="520.64" stroke="#333" stroke-width="0.9" />
<line x1="674.40" y1="520.64" x2="672.40" y2="520.64" stroke="#333" stroke-width="0.9" />
<line x1="410.50" y1="514.75" x2="412.50" y2="514.75" stroke="#333" stroke-width="0.9" />
<line x1="674.40" y1="514.75" x2="672.40" y2="514.75" stroke="#333" stroke-width="0.9" />
<line x1="410.50" y1="509.64" x2="412.50" y2="509.64" stroke="#333" stroke-width="0.9" />
<line x1="674.40" y1="509.64" x2="672.40" y2="509.64" stroke="#333" stroke-width="0.9" />
<line x1="410.50" y1="505.13" x2="412.50" y2="505.13" stroke="#333" stroke-width="0.9" />
<line x1="674.40" y1="505.13" x2="672.40" y2="505.13" stroke="#333" stroke-width="0.9" />
<text x="406.20" y="592.20" fill="#222" text-anchor="end" style='font-size:8.6px;font-family:"Liberation Sans", sans-serif;' >100</text>
<line x1="410.50" y1="501.10" x2="414.00" y2="501.10" stroke="#333" stroke-width="0.9" />
<line x1="674.40" y1="501.10" x2="670.90" y2="501.10" stroke="#333" stroke-width="0.9" />
<line x1="410.50" y1="474.58" x2="412.50" y2="474.58" stroke="#333" stroke-width="0.9" />
<line x1="674.40" y1="474.58" x2="672.40" y2="474.58" stroke="#333" stroke-width="0.9" />
<text x="406.20" y="504.10" fill="#222" text-anchor="end" style='font-size:8.6px;font-family:"Liberation Sans", sans-serif;' >1000</text>
<text x="0" y="0" transform="translate(385.7,570.4) rotate(-90)" text-anchor="middle" fill="#222" style='font-size:10.2px;font-family:"Liberation Sans",sans-serif'><tspan style="font-style:italic">SEA</tspan> (J/kg)</text>
<text x="514.4" y="701.6" fill="#222" style='font-size:10.4px;font-family:"Liberation Sans",sans-serif'>Density (kg/m<tspan dy="-3.5" style="font-size:7px">3</tspan><tspan dy="3.5">)</tspan></text>
<rect x="490.25" y="588.55" width="7.7" height="7.7" fill="#000"/>
<rect x="508.85" y="571.05" width="7.7" height="7.7" fill="#000"/>
<rect x="522.75" y="566.95" width="7.7" height="7.7" fill="#000"/>
<rect x="564.65" y="547.65" width="7.7" height="7.7" fill="#000"/>
<rect x="601.85" y="537.75" width="7.7" height="7.7" fill="#000"/>
<polygon points="471.80,573.30 482.00,573.30 476.90,564.30" fill="#0000ff" />
<polygon points="498.10,546.20 508.30,546.20 503.20,537.20" fill="#0000ff" />
<polygon points="516.40,533.60 526.60,533.60 521.50,524.60" fill="#0000ff" />
<polygon points="601.10,505.10 606.20,510.20 601.10,515.30 596.00,510.20" fill="#7f00ff" />
<polygon points="633.50,497.20 638.60,502.30 633.50,507.40 628.40,502.30" fill="#7f00ff" />
<polygon points="652.00,500.20 657.10,505.30 652.00,510.40 646.90,505.30" fill="#7f00ff" />
<polygon points="624.20,522.50 629.30,527.60 624.20,532.70 619.10,527.60" fill="#7f00ff" />
<polygon points="430.00,572.25 425.89,569.88 425.89,565.12 430.00,562.75 434.11,565.12 434.11,569.88" fill="#ff00ff" />
<polygon points="429.60,575.45 425.49,573.08 425.49,568.33 429.60,565.95 433.71,568.33 433.71,573.08" fill="#ff00ff" />
<polygon points="430.00,580.55 425.89,578.17 425.89,573.42 430.00,571.05 434.11,573.42 434.11,578.17" fill="#ff00ff" />
<polygon points="432.80,617.95 428.69,615.58 428.69,610.83 432.80,608.45 436.91,610.83 436.91,615.58" fill="#ff00ff" />
<polygon points="454.50,609.00 459.45,612.59 457.56,618.41 451.44,618.41 449.55,612.59" fill="#007f00" />
<polygon points="457.50,642.30 462.45,645.89 460.56,651.71 454.44,651.71 452.55,645.89" fill="#007f00" />
<polygon points="495.00,533.40 496.29,537.02 500.14,537.13 497.09,539.48 498.17,543.17 495.00,541.00 491.83,543.17 492.91,539.48 489.86,537.13 493.71,537.02" fill="#9010c8" />
<polygon points="537.20,498.00 538.49,501.62 542.34,501.73 539.29,504.08 540.37,507.77 537.20,505.60 534.03,507.77 535.11,504.08 532.06,501.73 535.91,501.62" fill="#9010c8" />
<polygon points="579.80,480.50 581.09,484.12 584.94,484.23 581.89,486.58 582.97,490.27 579.80,488.10 576.63,490.27 577.71,486.58 574.66,484.23 578.51,484.12" fill="#9010c8" />
<polygon points="459.40,596.90 469.60,596.90 464.50,605.90" fill="#808080" />
<polygon points="459.70,621.20 469.90,621.20 464.80,630.20" fill="#808080" />
<polygon points="459.70,631.40 469.90,631.40 464.80,640.40" fill="#808080" />
<polygon points="445.30,572.30 450.40,577.40 445.30,582.50 440.20,577.40" fill="#e0a838" />
<polygon points="459.00,580.30 464.10,585.40 459.00,590.50 453.90,585.40" fill="#e0a838" />
<polygon points="459.00,613.60 464.10,618.70 459.00,623.80 453.90,618.70" fill="#e0a838" />
<polygon points="500.60,607.40 500.60,617.80 509.80,612.60" fill="#ff8000" />
<polygon points="500.60,618.10 500.60,628.50 509.80,623.30" fill="#ff8000" />
<polygon points="489.20,619.40 489.20,629.80 498.40,624.60" fill="#ff8000" />
<polygon points="487.70,622.50 487.70,632.90 496.90,627.70" fill="#ff8000" />
<polygon points="484.00,630.30 484.00,640.70 493.20,635.50" fill="#ff8000" />
<circle cx="546.40" cy="478.00" r="4.3" fill="url(#ball)"/>
<circle cx="539.30" cy="478.00" r="4.3" fill="url(#ball)"/>
<circle cx="514.70" cy="481.50" r="4.3" fill="url(#ball)"/>
<circle cx="510.70" cy="485.50" r="4.3" fill="url(#ball)"/>
<circle cx="524.60" cy="486.00" r="4.3" fill="url(#ball)"/>
<circle cx="512.30" cy="493.70" r="4.3" fill="url(#ball)"/>
<circle cx="499.00" cy="501.50" r="4.3" fill="url(#ball)"/>
<circle cx="490.60" cy="506.60" r="4.3" fill="url(#ball)"/>
<circle cx="486.10" cy="513.30" r="4.3" fill="url(#ball)"/>
<circle cx="479.00" cy="519.20" r="4.3" fill="url(#ball)"/>
<circle cx="468.20" cy="528.20" r="4.3" fill="url(#ball)"/>
<circle cx="462.90" cy="542.60" r="4.3" fill="url(#ball)"/>
<circle cx="460.30" cy="552.80" r="4.3" fill="url(#ball)"/>
<circle cx="457.70" cy="556.60" r="4.3" fill="url(#ball)"/>
<circle cx="454.50" cy="559.20" r="4.3" fill="url(#ball)"/>
<circle cx="453.30" cy="565.00" r="4.3" fill="url(#ball)"/>
<circle cx="456.50" cy="566.20" r="4.3" fill="url(#ball)"/>
<circle cx="453.90" cy="574.50" r="4.3" fill="url(#ball)"/>
<circle cx="452.00" cy="577.10" r="4.3" fill="url(#ball)"/>
<circle cx="451.30" cy="580.90" r="4.3" fill="url(#ball)"/>
<circle cx="435.40" cy="587.60" r="4.3" fill="url(#ball)"/>
<circle cx="438.50" cy="596.30" r="4.3" fill="url(#ball)"/>
<circle cx="449.20" cy="595.00" r="4.3" fill="url(#ball)"/>
<circle cx="443.70" cy="600.10" r="4.3" fill="url(#ball)"/>
<circle cx="447.50" cy="604.00" r="4.3" fill="url(#ball)"/>
<circle cx="448.40" cy="606.50" r="4.3" fill="url(#ball)"/>
<circle cx="448.40" cy="609.70" r="4.3" fill="url(#ball)"/>
<circle cx="448.40" cy="612.90" r="4.3" fill="url(#ball)"/>
<circle cx="447.50" cy="624.40" r="4.3" fill="url(#ball)"/>
<rect x="600.35" y="568.05" width="7.7" height="7.7" fill="#000"/>
<text x="615.7" y="574.80" fill="#222" style='font-size:7.9px;font-family:"Liberation Sans",sans-serif'>Honeycombs<tspan dy="-3.0" style="font-size:5.4px">62</tspan></text>
<polygon points="599.10,587.10 609.30,587.10 604.20,578.10" fill="#0000ff" />
<text x="615.7" y="585.50" fill="#222" style='font-size:7.9px;font-family:"Liberation Sans",sans-serif'>Gyroid<tspan dy="-3.0" style="font-size:5.4px">63</tspan></text>
<polygon points="604.20,588.60 609.30,593.70 604.20,598.80 599.10,593.70" fill="#7f00ff" />
<text x="615.7" y="596.60" fill="#222" style='font-size:7.9px;font-family:"Liberation Sans",sans-serif'>Bio-inspired<tspan dy="-3.0" style="font-size:5.4px">64</tspan></text>
<polygon points="604.20,609.35 600.09,606.98 600.09,602.23 604.20,599.85 608.31,602.23 608.31,606.98" fill="#ff00ff" />
<text x="615.7" y="607.50" fill="#222" style='font-size:7.9px;font-family:"Liberation Sans",sans-serif'>Kresling<tspan dy="-3.0" style="font-size:5.4px">50</tspan></text>
<polygon points="604.20,611.00 609.15,614.59 607.26,620.41 601.14,620.41 599.25,614.59" fill="#007f00" />
<text x="615.7" y="618.50" fill="#222" style='font-size:7.9px;font-family:"Liberation Sans",sans-serif'>Auxetic<tspan dy="-3.0" style="font-size:5.4px">65</tspan></text>
<polygon points="604.20,621.60 605.49,625.22 609.34,625.33 606.29,627.68 607.37,631.37 604.20,629.20 601.03,631.37 602.11,627.68 599.06,625.33 602.91,625.22" fill="#9010c8" />
<text x="615.7" y="629.40" fill="#222" style='font-size:7.9px;font-family:"Liberation Sans",sans-serif'>Diamond<tspan dy="-3.0" style="font-size:5.4px">66</tspan></text>
<polygon points="599.10,633.10 609.30,633.10 604.20,642.10" fill="#808080" />
<text x="615.7" y="640.50" fill="#222" style='font-size:7.9px;font-family:"Liberation Sans",sans-serif'>Spinodoid<tspan dy="-3.0" style="font-size:5.4px">67</tspan></text>
<polygon points="604.20,643.30 609.30,648.40 604.20,653.50 599.10,648.40" fill="#e0a838" />
<text x="615.7" y="651.30" fill="#222" style='font-size:7.9px;font-family:"Liberation Sans",sans-serif'>GCS<tspan dy="-3.0" style="font-size:5.4px">56</tspan></text>
<polygon points="599.60,653.60 599.60,664.00 608.80,658.80" fill="#ff8000" />
<text x="615.7" y="661.70" fill="#222" style='font-size:7.9px;font-family:"Liberation Sans",sans-serif'>Line-oriented<tspan dy="-3.0" style="font-size:5.4px">68</tspan></text>
<circle cx="604.20" cy="669.40" r="4.3" fill="url(#ball)"/>
<text x="615.7" y="672.30" fill="#222" style='font-size:7.9px;font-family:"Liberation Sans",sans-serif'>CMCS</text>
</svg>
</body></html>
